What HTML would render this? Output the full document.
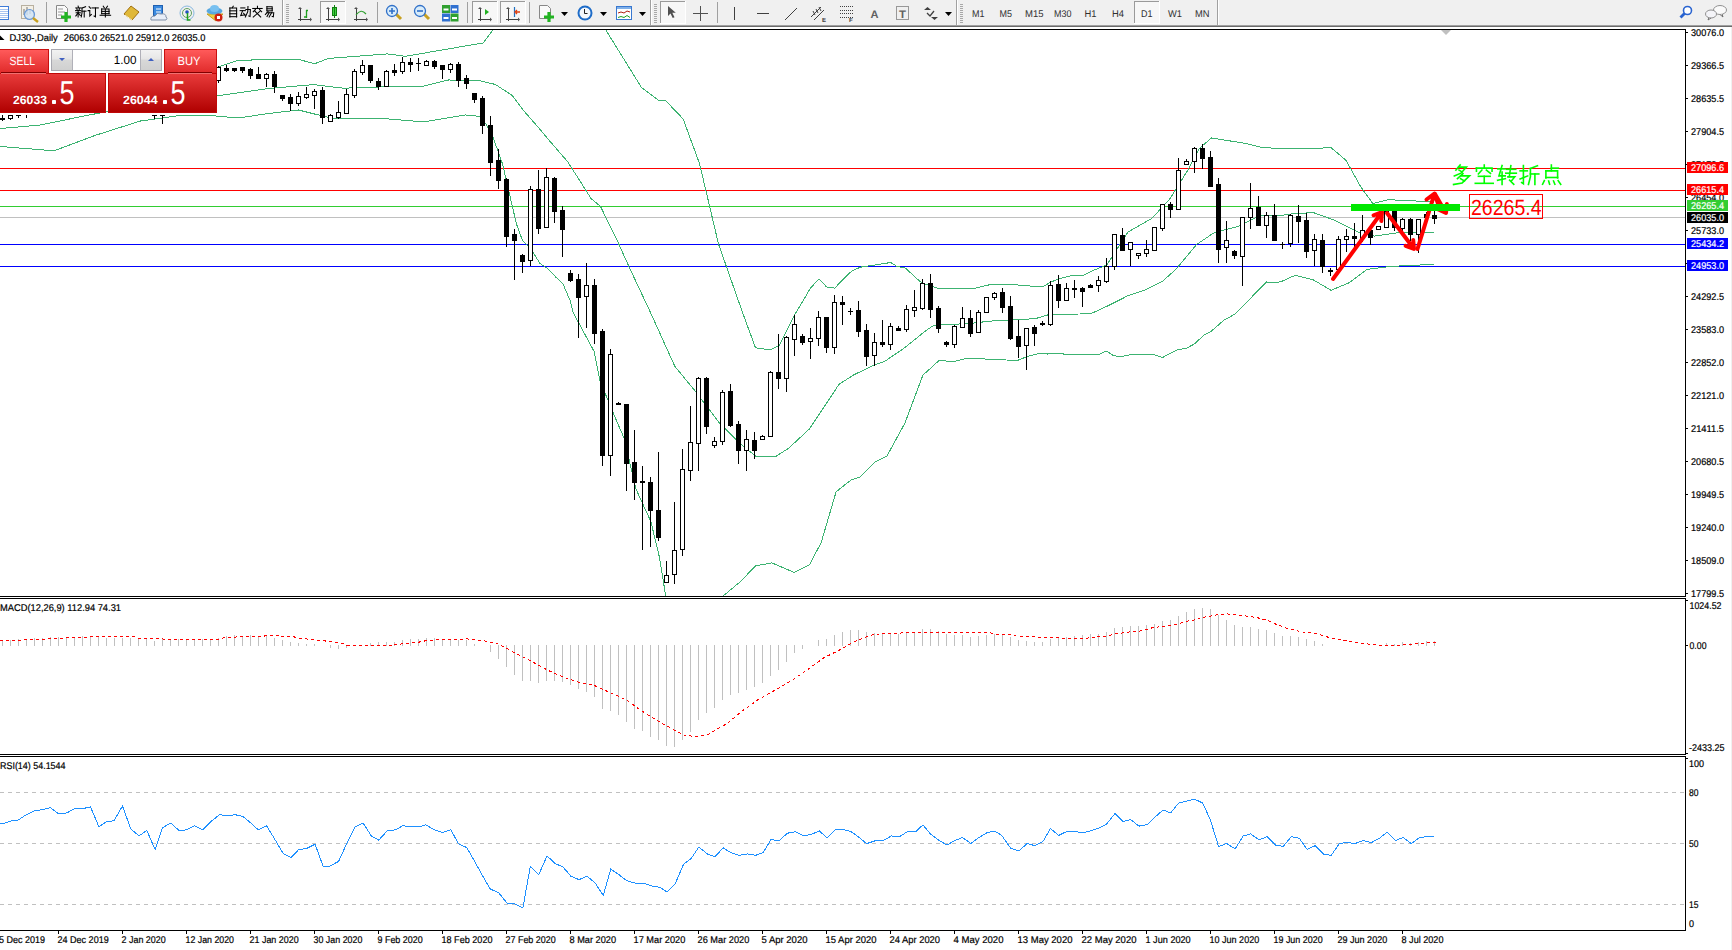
<!DOCTYPE html><html><head><meta charset="utf-8"><style>html,body{margin:0;padding:0;background:#fff;width:1732px;height:950px;overflow:hidden}svg{display:block;font-family:"Liberation Sans", sans-serif}</style></head><body>
<svg width="1732" height="950" viewBox="0 0 1732 950" text-rendering="geometricPrecision">
<rect x="0" y="0" width="1732" height="25" fill="#f0f0f0"/>
<rect x="0" y="25" width="1732" height="1" fill="#a0a0a0"/>
<rect x="0" y="26" width="1732" height="1" fill="#6a6a6a"/>
<rect x="1731" y="27" width="1" height="923" fill="#f0f0f0"/>
<g shape-rendering="auto"><rect x="-4.5" y="6.5" width="13" height="13" fill="#fff" stroke="#3d7bd8"/><rect x="0" y="9" width="8" height="1" fill="#a8c4f0"/><rect x="0" y="11" width="8" height="1" fill="#a8c4f0"/><rect x="0" y="13" width="8" height="1" fill="#a8c4f0"/><rect x="0" y="15" width="8" height="1" fill="#a8c4f0"/><rect x="0" y="17" width="8" height="1" fill="#a8c4f0"/><rect x="21.5" y="5.5" width="12" height="13" fill="#f4f0e6" stroke="#b8b0a0"/><path d="M24 9 v6 M27 7 v8 M30 9 v5" stroke="#777" stroke-width="1"/><circle cx="29.5" cy="14.5" r="5" fill="#cfe3f7" fill-opacity="0.8" stroke="#6a9ad8" stroke-width="1.2"/><path d="M33 18 l5 4" stroke="#c8a020" stroke-width="2.5"/><rect x="46" y="2" width="1" height="21" fill="#a0a0a0"/><path d="M56.5 5.5 h8 l3 3 v10 h-11 z" fill="#fafafa" stroke="#888"/><path d="M58 9 h5 M58 12 h7 M58 15 h4" stroke="#999"/><path d="M66 12 v10 M61 17 h10" stroke="#22b422" stroke-width="3.2"/><g fill="none" stroke="#000" stroke-width="1.05" stroke-linecap="square" stroke-linejoin="miter"><polyline points="78.12,6.20 78.44,7.28"/><polyline points="75.81,7.93 80.75,7.93"/><polyline points="76.76,8.79 77.28,10.09"/><polyline points="79.49,8.79 78.97,10.09"/><polyline points="75.50,10.63 80.75,10.63"/><polyline points="76.13,12.79 80.33,12.79"/><polyline points="78.12,10.63 78.12,17.00"/><polyline points="77.92,13.33 75.81,16.03"/><polyline points="78.33,13.33 80.33,15.49"/><polyline points="85.58,6.74 82.01,8.14"/><polyline points="82.01,8.14 82.01,12.68 81.28,17.00"/><polyline points="82.01,11.17 86.00,11.17"/><polyline points="84.22,11.17 84.22,17.00"/></g><g fill="none" stroke="#000" stroke-width="1.05" stroke-linecap="square" stroke-linejoin="miter"><polyline points="89.06,6.74 90.53,8.25"/><polyline points="88.11,10.63 89.80,10.63 89.80,16.03 91.37,14.41"/><polyline points="92.00,7.93 98.30,7.93"/><polyline points="95.47,7.93 95.47,16.78 94.10,16.03"/></g><g fill="none" stroke="#000" stroke-width="1.05" stroke-linecap="square" stroke-linejoin="miter"><polyline points="103.25,6.20 104.30,7.82"/><polyline points="107.45,6.20 106.40,7.82"/><polyline points="101.67,9.01 101.67,13.76"/><polyline points="101.67,9.01 109.02,9.01 109.02,13.76"/><polyline points="101.67,11.38 109.02,11.38"/><polyline points="101.67,13.65 109.02,13.65"/><polyline points="100.10,15.27 110.60,15.27"/><polyline points="105.35,9.01 105.35,17.00"/></g><path d="M124 14 l7 -8 l8 6 l-7 8 z" fill="#e0b838" stroke="#a07010" stroke-width="1"/><path d="M125 15 l7 5" stroke="#fff3c0" stroke-width="1"/><rect x="153.5" y="5.5" width="9" height="10" fill="#3a8ae0" stroke="#2060b0"/><path d="M156 9 h5 M156 12 h5" stroke="#fff"/><path d="M151 20 q-1 -4 4 -4 q2 -4 6 -2 q5 -1 5 3 q2 1 0 3 z" fill="#e8eef8" stroke="#8090a8"/><circle cx="187" cy="13" r="7" fill="none" stroke="#88b8e0" stroke-width="1"/><circle cx="187" cy="13" r="4.5" fill="none" stroke="#60a060" stroke-width="1"/><circle cx="187" cy="12" r="1.8" fill="#2050c0"/><path d="M187.5 13 v7 h3" stroke="#20a020" stroke-width="1.5" fill="none"/><path d="M207 14 l9 7 l7 -7 z" fill="#f0d040" stroke="#c0a020"/><ellipse cx="214.5" cy="11" rx="8" ry="3.5" fill="#58a8e0"/><ellipse cx="214.5" cy="8.5" rx="4.5" ry="3.5" fill="#78c0f0"/><circle cx="218.5" cy="17.5" r="4" fill="#d02010"/><rect x="217" y="16" width="3" height="3" fill="#fff"/><g fill="none" stroke="#000" stroke-width="1.05" stroke-linecap="square" stroke-linejoin="miter"><polyline points="233.25,6.20 232.20,7.82"/><polyline points="229.89,7.93 229.89,17.00"/><polyline points="229.89,7.93 236.61,7.93 236.61,17.00"/><polyline points="229.89,10.84 236.61,10.84"/><polyline points="229.89,13.76 236.61,13.76"/><polyline points="229.89,16.68 236.61,16.68"/></g><g fill="none" stroke="#000" stroke-width="1.05" stroke-linecap="square" stroke-linejoin="miter"><polyline points="240.73,7.93 244.93,7.93"/><polyline points="240.10,10.63 245.35,10.63"/><polyline points="242.62,10.63 240.73,15.49 244.93,14.84"/><polyline points="243.67,13.33 245.25,15.49"/><polyline points="245.88,9.55 250.39,9.55 250.07,16.57 248.81,16.03"/><polyline points="247.97,6.52 247.76,11.60 245.35,17.00"/></g><g fill="none" stroke="#000" stroke-width="1.05" stroke-linecap="square" stroke-linejoin="miter"><polyline points="257.45,6.20 257.45,7.60"/><polyline points="252.72,8.47 262.18,8.47"/><polyline points="255.35,9.55 253.25,11.71"/><polyline points="259.55,9.55 261.65,11.71"/><polyline points="254.93,11.17 260.70,17.00"/><polyline points="260.07,11.17 253.25,17.00"/></g><g fill="none" stroke="#000" stroke-width="1.05" stroke-linecap="square" stroke-linejoin="miter"><polyline points="266.93,6.74 266.93,10.84"/><polyline points="266.93,6.74 272.18,6.74 272.18,10.84"/><polyline points="266.93,8.79 272.18,8.79"/><polyline points="266.93,10.84 272.18,10.84"/><polyline points="268.08,11.38 265.35,14.41"/><polyline points="267.03,12.68 273.75,12.68 273.33,16.78 272.18,16.46"/><polyline points="269.13,12.68 267.03,16.57"/><polyline points="271.55,12.68 269.13,17.00"/></g><rect x="282" y="0" width="1" height="25" fill="#a0a0a0"/><rect x="283" y="0" width="1" height="25" fill="#fff"/><rect x="286" y="4" width="3" height="1" fill="#a8a8a8"/><rect x="286" y="6" width="3" height="1" fill="#a8a8a8"/><rect x="286" y="8" width="3" height="1" fill="#a8a8a8"/><rect x="286" y="10" width="3" height="1" fill="#a8a8a8"/><rect x="286" y="12" width="3" height="1" fill="#a8a8a8"/><rect x="286" y="14" width="3" height="1" fill="#a8a8a8"/><rect x="286" y="16" width="3" height="1" fill="#a8a8a8"/><rect x="286" y="18" width="3" height="1" fill="#a8a8a8"/><rect x="286" y="20" width="3" height="1" fill="#a8a8a8"/><rect x="286" y="22" width="3" height="1" fill="#a8a8a8"/><path d="M300.5 8 v13 M298 19.5 h13" stroke="#404040" stroke-width="1" fill="none"/><path d="M300 7 l-2 2 h4 z M312 19.5 l-2 -2 v4 z" fill="#505050"/><path d="M306 10.5 h2 M306.5 10 v8 M304 17 h2.5" stroke="#20a020" stroke-width="1.3" fill="none"/><rect x="320" y="1" width="25" height="22" fill="#f7f7f7"/><rect x="320" y="1" width="25" height="1" fill="#9a9a9a"/><rect x="320" y="1" width="1" height="22" fill="#9a9a9a"/><rect x="320" y="23" width="26" height="1" fill="#fff"/><rect x="345" y="1" width="1" height="23" fill="#fff"/><path d="M328.5 8 v13 M326 19.5 h13" stroke="#404040" stroke-width="1" fill="none"/><path d="M328 7 l-2 2 h4 z M340 19.5 l-2 -2 v4 z" fill="#505050"/><rect x="332.5" y="7.5" width="4" height="8" fill="#40d040" stroke="#108010"/><path d="M334.5 5 v13" stroke="#108010"/><path d="M356.5 8 v13 M354 19.5 h13" stroke="#404040" stroke-width="1" fill="none"/><path d="M356 7 l-2 2 h4 z M368 19.5 l-2 -2 v4 z" fill="#505050"/><path d="M356 15 q5 -7 10 -1" stroke="#30a030" stroke-width="1.2" fill="none"/><rect x="377" y="2" width="1" height="21" fill="#a0a0a0"/><path d="M396 14 l5 5" stroke="#c8a020" stroke-width="3"/><circle cx="392" cy="11" r="5.5" fill="#d8ecfa" stroke="#3070c8" stroke-width="1.3"/><path d="M389 11 h6 M392 8 v6" stroke="#3070c8" stroke-width="1.6"/><path d="M424 14 l5 5" stroke="#c8a020" stroke-width="3"/><circle cx="420" cy="11" r="5.5" fill="#d8ecfa" stroke="#3070c8" stroke-width="1.3"/><path d="M417 11 h6" stroke="#3070c8" stroke-width="1.6"/><rect x="442" y="5" width="8" height="8" fill="#30a030"/><rect x="450.5" y="5" width="8" height="8" fill="#3070d0"/><rect x="442" y="13.5" width="8" height="8" fill="#3070d0"/><rect x="450.5" y="13.5" width="8" height="8" fill="#30a030"/><path d="M443.5 9.5 h5 M452 9.5 h5 M443.5 18 h5 M452 18 h5" stroke="#fff" stroke-width="2"/><rect x="467" y="2" width="1" height="21" fill="#a0a0a0"/><rect x="472" y="1" width="25" height="22" fill="#f7f7f7"/><rect x="472" y="1" width="25" height="1" fill="#9a9a9a"/><rect x="472" y="1" width="1" height="22" fill="#9a9a9a"/><rect x="472" y="23" width="26" height="1" fill="#fff"/><rect x="497" y="1" width="1" height="23" fill="#fff"/><path d="M480.5 8 v13 M478 19.5 h13" stroke="#404040" stroke-width="1" fill="none"/><path d="M480 7 l-2 2 h4 z M492 19.5 l-2 -2 v4 z" fill="#505050"/><path d="M485 9 v6 l4 -3 z" fill="#20b020"/><rect x="500" y="1" width="25" height="22" fill="#f7f7f7"/><rect x="500" y="1" width="25" height="1" fill="#9a9a9a"/><rect x="500" y="1" width="1" height="22" fill="#9a9a9a"/><rect x="500" y="23" width="26" height="1" fill="#fff"/><rect x="525" y="1" width="1" height="23" fill="#fff"/><path d="M508.5 8 v13 M506 19.5 h13" stroke="#404040" stroke-width="1" fill="none"/><path d="M508 7 l-2 2 h4 z M520 19.5 l-2 -2 v4 z" fill="#505050"/><path d="M514.5 7 v10" stroke="#2070c0" stroke-width="1.2"/><path d="M520 12 h-4 M517 10 l-2 2 l2 2" stroke="#e04010" stroke-width="1.3" fill="none"/><rect x="529" y="2" width="1" height="21" fill="#a0a0a0"/><path d="M539.5 5.5 h8 l3 3 v10 h-11 z" fill="#fafafa" stroke="#888"/><path d="M549 12 v10 M544 17 h10" stroke="#22b422" stroke-width="3.2"/><path d="M561 12 h7 l-3.5 4 z" fill="#000"/><circle cx="585" cy="13" r="7.5" fill="#1e6cc8"/><circle cx="585" cy="13" r="5.5" fill="#f4f8fc"/><path d="M584.5 9 v4.5 h3" stroke="#222" stroke-width="1" fill="none"/><path d="M600 12 h7 l-3.5 4 z" fill="#000"/><rect x="616.5" y="6.5" width="15" height="13" fill="#fff" stroke="#3878d0"/><rect x="617" y="7" width="14" height="2" fill="#80b0e8"/><path d="M618 13 l3 -1 l3 1 l3 -2 l3 1" stroke="#b02010" fill="none"/><path d="M618 17.5 l3 -1 l3 1 l3 -2 l3 2" stroke="#20a020" fill="none"/><path d="M639 12 h7 l-3.5 4 z" fill="#000"/><rect x="650" y="0" width="1" height="25" fill="#a0a0a0"/><rect x="651" y="0" width="1" height="25" fill="#fff"/><rect x="654" y="4" width="3" height="1" fill="#a8a8a8"/><rect x="654" y="6" width="3" height="1" fill="#a8a8a8"/><rect x="654" y="8" width="3" height="1" fill="#a8a8a8"/><rect x="654" y="10" width="3" height="1" fill="#a8a8a8"/><rect x="654" y="12" width="3" height="1" fill="#a8a8a8"/><rect x="654" y="14" width="3" height="1" fill="#a8a8a8"/><rect x="654" y="16" width="3" height="1" fill="#a8a8a8"/><rect x="654" y="18" width="3" height="1" fill="#a8a8a8"/><rect x="654" y="20" width="3" height="1" fill="#a8a8a8"/><rect x="654" y="22" width="3" height="1" fill="#a8a8a8"/><rect x="660" y="1" width="25" height="22" fill="#f7f7f7"/><rect x="660" y="1" width="25" height="1" fill="#9a9a9a"/><rect x="660" y="1" width="1" height="22" fill="#9a9a9a"/><rect x="660" y="23" width="26" height="1" fill="#fff"/><rect x="685" y="1" width="1" height="23" fill="#fff"/><path d="M668 6 v10 l2.5 -2.5 l2.2 4.5 l1.8 -0.8 l-2.2 -4.5 h3.5 z" fill="#505050"/><path d="M693 13.5 h15 M700.5 6 v15" stroke="#505050" stroke-width="1"/><rect x="717" y="2" width="1" height="21" fill="#a0a0a0"/><rect x="734" y="7" width="1" height="13" fill="#404040"/><rect x="757" y="13" width="12" height="1" fill="#404040"/><path d="M785 20 l12 -12" stroke="#404040" stroke-width="1"/><path d="M811 17 l10 -10 M814 20 l10 -10 M813 11 l2 4 M816 9 l2 4 M819 7 l2 4" stroke="#404040" stroke-width="1" fill="none"/><text x="822" y="22" font-size="6" fill="#404040" text-anchor="start" font-weight="bold">E</text><path d="M840 6.5 h14" stroke="#404040" stroke-dasharray="1 1"/><path d="M840 10.5 h14" stroke="#404040" stroke-dasharray="1 1"/><path d="M840 13.5 h14" stroke="#404040" stroke-dasharray="1 1"/><path d="M840 17.5 h14" stroke="#404040" stroke-dasharray="1 1"/><text x="849" y="22" font-size="6" fill="#404040" text-anchor="start" font-weight="bold">F</text><text x="870.5" y="18" font-size="11" fill="#606060" text-anchor="start" font-weight="bold" textLength="8" lengthAdjust="spacingAndGlyphs">A</text><rect x="896.5" y="6.5" width="12" height="13" fill="none" stroke="#404040" stroke-dasharray="1 1"/><text x="899" y="18" font-size="11" fill="#606060" text-anchor="start" font-weight="bold" textLength="7" lengthAdjust="spacingAndGlyphs">T</text><path d="M924 10 l3.5 -3 l3.5 3 z M931 17 l3.5 3 l3.5 -3 z" fill="#404040"/><path d="M927 13 l3 3 l4 -5" stroke="#404040" stroke-width="1.3" fill="none"/><path d="M945 12 h7 l-3.5 4 z" fill="#000"/><rect x="956" y="0" width="1" height="25" fill="#a0a0a0"/><rect x="957" y="0" width="1" height="25" fill="#fff"/><rect x="960" y="4" width="3" height="1" fill="#a8a8a8"/><rect x="960" y="6" width="3" height="1" fill="#a8a8a8"/><rect x="960" y="8" width="3" height="1" fill="#a8a8a8"/><rect x="960" y="10" width="3" height="1" fill="#a8a8a8"/><rect x="960" y="12" width="3" height="1" fill="#a8a8a8"/><rect x="960" y="14" width="3" height="1" fill="#a8a8a8"/><rect x="960" y="16" width="3" height="1" fill="#a8a8a8"/><rect x="960" y="18" width="3" height="1" fill="#a8a8a8"/><rect x="960" y="20" width="3" height="1" fill="#a8a8a8"/><rect x="960" y="22" width="3" height="1" fill="#a8a8a8"/><text x="972" y="17" font-size="9.8" fill="#303030" text-anchor="start" font-weight="normal" textLength="12.5" lengthAdjust="spacingAndGlyphs" stroke-width="0">M1</text><text x="999.5" y="17" font-size="9.8" fill="#303030" text-anchor="start" font-weight="normal" textLength="12.5" lengthAdjust="spacingAndGlyphs" stroke-width="0">M5</text><text x="1025" y="17" font-size="9.8" fill="#303030" text-anchor="start" font-weight="normal" textLength="18.5" lengthAdjust="spacingAndGlyphs" stroke-width="0">M15</text><text x="1054" y="17" font-size="9.8" fill="#303030" text-anchor="start" font-weight="normal" textLength="17.5" lengthAdjust="spacingAndGlyphs" stroke-width="0">M30</text><text x="1084.5" y="17" font-size="9.8" fill="#303030" text-anchor="start" font-weight="normal" textLength="12" lengthAdjust="spacingAndGlyphs" stroke-width="0">H1</text><text x="1112" y="17" font-size="9.8" fill="#303030" text-anchor="start" font-weight="normal" textLength="12" lengthAdjust="spacingAndGlyphs" stroke-width="0">H4</text><text x="1168" y="17" font-size="9.8" fill="#303030" text-anchor="start" font-weight="normal" textLength="14" lengthAdjust="spacingAndGlyphs" stroke-width="0">W1</text><text x="1195" y="17" font-size="9.8" fill="#303030" text-anchor="start" font-weight="normal" textLength="14.5" lengthAdjust="spacingAndGlyphs" stroke-width="0">MN</text><rect x="1134" y="1" width="25" height="22" fill="#f7f7f7"/><rect x="1134" y="1" width="25" height="1" fill="#9a9a9a"/><rect x="1134" y="1" width="1" height="22" fill="#9a9a9a"/><rect x="1134" y="23" width="26" height="1" fill="#fff"/><rect x="1159" y="1" width="1" height="23" fill="#fff"/><text x="1141" y="17" font-size="9.8" fill="#303030" text-anchor="start" font-weight="normal" textLength="11.5" lengthAdjust="spacingAndGlyphs" stroke-width="0">D1</text><rect x="1217" y="0" width="1" height="25" fill="#a0a0a0"/><rect x="1218" y="0" width="1" height="25" fill="#fff"/><circle cx="1687.5" cy="10.5" r="4" fill="#fff" stroke="#2a64d0" stroke-width="1.6"/><path d="M1684.5 13.5 l-4 4" stroke="#2a64d0" stroke-width="2.8"/><ellipse cx="1720" cy="10" rx="6.5" ry="4.5" fill="#fafafa" stroke="#909090"/><path d="M1722 14 l1 3 l-3 -2.5" fill="#fafafa" stroke="#707070"/><ellipse cx="1711" cy="14" rx="5.5" ry="4" fill="#f4f4f8" stroke="#909090"/><path d="M1709 17.5 l-1 2.5 l3 -2" fill="#fafafa" stroke="#707070"/></g>
<g shape-rendering="crispEdges">
<rect x="0" y="29" width="1686" height="1" fill="#000"/>
<rect x="1685" y="29" width="1" height="568" fill="#000"/>
<rect x="0" y="596" width="1686" height="1" fill="#000"/>
<rect x="0" y="598" width="1686" height="1" fill="#000"/>
<rect x="1685" y="598" width="1" height="157" fill="#000"/>
<rect x="0" y="754" width="1686" height="1" fill="#000"/>
<rect x="0" y="756" width="1686" height="1" fill="#000"/>
<rect x="1685" y="756" width="1" height="175" fill="#000"/>
<rect x="0" y="930" width="1686" height="1" fill="#000"/>
<rect x="0" y="168" width="1685" height="1" fill="#ff0000"/>
<rect x="0" y="190" width="1685" height="1" fill="#ff0000"/>
<rect x="0" y="206" width="1685" height="1" fill="#32cd32"/>
<rect x="0" y="217" width="1685" height="1" fill="#c0c0c0"/>
<rect x="0" y="244" width="1685" height="1" fill="#0000ff"/>
<rect x="0" y="266" width="1685" height="1" fill="#0000ff"/>
<line x1="0" y1="792.5" x2="1685" y2="792.5" stroke="#c0c0c0" stroke-width="1" stroke-dasharray="4 4"/>
<line x1="0" y1="843.5" x2="1685" y2="843.5" stroke="#c0c0c0" stroke-width="1" stroke-dasharray="4 4"/>
<line x1="0" y1="904.5" x2="1685" y2="904.5" stroke="#c0c0c0" stroke-width="1" stroke-dasharray="4 4"/>
<rect x="2" y="640" width="1" height="6" fill="#c0c0c0"/>
<rect x="10" y="640" width="1" height="6" fill="#c0c0c0"/>
<rect x="18" y="639" width="1" height="7" fill="#c0c0c0"/>
<rect x="26" y="639" width="1" height="7" fill="#c0c0c0"/>
<rect x="34" y="638" width="1" height="8" fill="#c0c0c0"/>
<rect x="42" y="638" width="1" height="8" fill="#c0c0c0"/>
<rect x="50" y="637" width="1" height="9" fill="#c0c0c0"/>
<rect x="58" y="637" width="1" height="9" fill="#c0c0c0"/>
<rect x="66" y="637" width="1" height="9" fill="#c0c0c0"/>
<rect x="74" y="637" width="1" height="9" fill="#c0c0c0"/>
<rect x="82" y="636" width="1" height="10" fill="#c0c0c0"/>
<rect x="90" y="636" width="1" height="10" fill="#c0c0c0"/>
<rect x="98" y="636" width="1" height="10" fill="#c0c0c0"/>
<rect x="106" y="638" width="1" height="8" fill="#c0c0c0"/>
<rect x="114" y="638" width="1" height="8" fill="#c0c0c0"/>
<rect x="122" y="638" width="1" height="8" fill="#c0c0c0"/>
<rect x="130" y="638" width="1" height="8" fill="#c0c0c0"/>
<rect x="138" y="639" width="1" height="7" fill="#c0c0c0"/>
<rect x="146" y="639" width="1" height="7" fill="#c0c0c0"/>
<rect x="154" y="641" width="1" height="5" fill="#c0c0c0"/>
<rect x="162" y="639" width="1" height="7" fill="#c0c0c0"/>
<rect x="170" y="639" width="1" height="7" fill="#c0c0c0"/>
<rect x="178" y="639" width="1" height="7" fill="#c0c0c0"/>
<rect x="186" y="639" width="1" height="7" fill="#c0c0c0"/>
<rect x="194" y="639" width="1" height="7" fill="#c0c0c0"/>
<rect x="202" y="639" width="1" height="7" fill="#c0c0c0"/>
<rect x="210" y="639" width="1" height="7" fill="#c0c0c0"/>
<rect x="218" y="638" width="1" height="8" fill="#c0c0c0"/>
<rect x="226" y="636" width="1" height="10" fill="#c0c0c0"/>
<rect x="234" y="635" width="1" height="11" fill="#c0c0c0"/>
<rect x="242" y="636" width="1" height="10" fill="#c0c0c0"/>
<rect x="250" y="635" width="1" height="11" fill="#c0c0c0"/>
<rect x="258" y="636" width="1" height="10" fill="#c0c0c0"/>
<rect x="266" y="635" width="1" height="11" fill="#c0c0c0"/>
<rect x="274" y="638" width="1" height="8" fill="#c0c0c0"/>
<rect x="282" y="640" width="1" height="6" fill="#c0c0c0"/>
<rect x="290" y="642" width="1" height="4" fill="#c0c0c0"/>
<rect x="298" y="643" width="1" height="3" fill="#c0c0c0"/>
<rect x="306" y="644" width="1" height="2" fill="#c0c0c0"/>
<rect x="314" y="644" width="1" height="2" fill="#c0c0c0"/>
<rect x="330" y="645" width="1" height="3" fill="#c0c0c0"/>
<rect x="338" y="645" width="1" height="4" fill="#c0c0c0"/>
<rect x="346" y="645" width="1" height="3" fill="#c0c0c0"/>
<rect x="370" y="643" width="1" height="3" fill="#c0c0c0"/>
<rect x="378" y="642" width="1" height="4" fill="#c0c0c0"/>
<rect x="386" y="642" width="1" height="4" fill="#c0c0c0"/>
<rect x="394" y="642" width="1" height="4" fill="#c0c0c0"/>
<rect x="402" y="640" width="1" height="6" fill="#c0c0c0"/>
<rect x="410" y="639" width="1" height="7" fill="#c0c0c0"/>
<rect x="418" y="639" width="1" height="7" fill="#c0c0c0"/>
<rect x="426" y="638" width="1" height="8" fill="#c0c0c0"/>
<rect x="434" y="638" width="1" height="8" fill="#c0c0c0"/>
<rect x="442" y="639" width="1" height="7" fill="#c0c0c0"/>
<rect x="450" y="639" width="1" height="7" fill="#c0c0c0"/>
<rect x="458" y="640" width="1" height="6" fill="#c0c0c0"/>
<rect x="466" y="640" width="1" height="6" fill="#c0c0c0"/>
<rect x="474" y="644" width="1" height="2" fill="#c0c0c0"/>
<rect x="490" y="645" width="1" height="7" fill="#c0c0c0"/>
<rect x="498" y="645" width="1" height="14" fill="#c0c0c0"/>
<rect x="506" y="645" width="1" height="22" fill="#c0c0c0"/>
<rect x="514" y="645" width="1" height="30" fill="#c0c0c0"/>
<rect x="522" y="645" width="1" height="36" fill="#c0c0c0"/>
<rect x="530" y="645" width="1" height="36" fill="#c0c0c0"/>
<rect x="538" y="645" width="1" height="38" fill="#c0c0c0"/>
<rect x="546" y="645" width="1" height="36" fill="#c0c0c0"/>
<rect x="554" y="645" width="1" height="36" fill="#c0c0c0"/>
<rect x="562" y="645" width="1" height="37" fill="#c0c0c0"/>
<rect x="570" y="645" width="1" height="40" fill="#c0c0c0"/>
<rect x="578" y="645" width="1" height="44" fill="#c0c0c0"/>
<rect x="586" y="645" width="1" height="47" fill="#c0c0c0"/>
<rect x="594" y="645" width="1" height="52" fill="#c0c0c0"/>
<rect x="602" y="645" width="1" height="64" fill="#c0c0c0"/>
<rect x="610" y="645" width="1" height="66" fill="#c0c0c0"/>
<rect x="618" y="645" width="1" height="70" fill="#c0c0c0"/>
<rect x="626" y="645" width="1" height="77" fill="#c0c0c0"/>
<rect x="634" y="645" width="1" height="84" fill="#c0c0c0"/>
<rect x="642" y="645" width="1" height="86" fill="#c0c0c0"/>
<rect x="650" y="645" width="1" height="92" fill="#c0c0c0"/>
<rect x="658" y="645" width="1" height="95" fill="#c0c0c0"/>
<rect x="666" y="645" width="1" height="101" fill="#c0c0c0"/>
<rect x="674" y="645" width="1" height="102" fill="#c0c0c0"/>
<rect x="682" y="645" width="1" height="95" fill="#c0c0c0"/>
<rect x="690" y="645" width="1" height="87" fill="#c0c0c0"/>
<rect x="698" y="645" width="1" height="75" fill="#c0c0c0"/>
<rect x="706" y="645" width="1" height="68" fill="#c0c0c0"/>
<rect x="714" y="645" width="1" height="63" fill="#c0c0c0"/>
<rect x="722" y="645" width="1" height="55" fill="#c0c0c0"/>
<rect x="730" y="645" width="1" height="50" fill="#c0c0c0"/>
<rect x="738" y="645" width="1" height="48" fill="#c0c0c0"/>
<rect x="746" y="645" width="1" height="45" fill="#c0c0c0"/>
<rect x="754" y="645" width="1" height="42" fill="#c0c0c0"/>
<rect x="762" y="645" width="1" height="38" fill="#c0c0c0"/>
<rect x="770" y="645" width="1" height="31" fill="#c0c0c0"/>
<rect x="778" y="645" width="1" height="25" fill="#c0c0c0"/>
<rect x="786" y="645" width="1" height="17" fill="#c0c0c0"/>
<rect x="794" y="645" width="1" height="8" fill="#c0c0c0"/>
<rect x="802" y="645" width="1" height="4" fill="#c0c0c0"/>
<rect x="818" y="640" width="1" height="6" fill="#c0c0c0"/>
<rect x="826" y="639" width="1" height="7" fill="#c0c0c0"/>
<rect x="834" y="635" width="1" height="11" fill="#c0c0c0"/>
<rect x="842" y="632" width="1" height="14" fill="#c0c0c0"/>
<rect x="850" y="630" width="1" height="16" fill="#c0c0c0"/>
<rect x="858" y="630" width="1" height="16" fill="#c0c0c0"/>
<rect x="866" y="632" width="1" height="14" fill="#c0c0c0"/>
<rect x="874" y="633" width="1" height="13" fill="#c0c0c0"/>
<rect x="882" y="634" width="1" height="12" fill="#c0c0c0"/>
<rect x="890" y="634" width="1" height="12" fill="#c0c0c0"/>
<rect x="898" y="634" width="1" height="12" fill="#c0c0c0"/>
<rect x="906" y="633" width="1" height="13" fill="#c0c0c0"/>
<rect x="914" y="633" width="1" height="13" fill="#c0c0c0"/>
<rect x="922" y="629" width="1" height="17" fill="#c0c0c0"/>
<rect x="930" y="629" width="1" height="17" fill="#c0c0c0"/>
<rect x="938" y="631" width="1" height="15" fill="#c0c0c0"/>
<rect x="946" y="634" width="1" height="12" fill="#c0c0c0"/>
<rect x="954" y="635" width="1" height="11" fill="#c0c0c0"/>
<rect x="962" y="635" width="1" height="11" fill="#c0c0c0"/>
<rect x="970" y="637" width="1" height="9" fill="#c0c0c0"/>
<rect x="978" y="636" width="1" height="10" fill="#c0c0c0"/>
<rect x="986" y="635" width="1" height="11" fill="#c0c0c0"/>
<rect x="994" y="634" width="1" height="12" fill="#c0c0c0"/>
<rect x="1002" y="635" width="1" height="11" fill="#c0c0c0"/>
<rect x="1010" y="637" width="1" height="9" fill="#c0c0c0"/>
<rect x="1018" y="640" width="1" height="6" fill="#c0c0c0"/>
<rect x="1026" y="641" width="1" height="5" fill="#c0c0c0"/>
<rect x="1034" y="642" width="1" height="4" fill="#c0c0c0"/>
<rect x="1042" y="642" width="1" height="4" fill="#c0c0c0"/>
<rect x="1050" y="639" width="1" height="7" fill="#c0c0c0"/>
<rect x="1058" y="638" width="1" height="8" fill="#c0c0c0"/>
<rect x="1066" y="637" width="1" height="9" fill="#c0c0c0"/>
<rect x="1074" y="636" width="1" height="10" fill="#c0c0c0"/>
<rect x="1082" y="635" width="1" height="11" fill="#c0c0c0"/>
<rect x="1090" y="634" width="1" height="12" fill="#c0c0c0"/>
<rect x="1098" y="634" width="1" height="12" fill="#c0c0c0"/>
<rect x="1106" y="632" width="1" height="14" fill="#c0c0c0"/>
<rect x="1114" y="628" width="1" height="18" fill="#c0c0c0"/>
<rect x="1122" y="627" width="1" height="19" fill="#c0c0c0"/>
<rect x="1130" y="626" width="1" height="20" fill="#c0c0c0"/>
<rect x="1138" y="626" width="1" height="20" fill="#c0c0c0"/>
<rect x="1146" y="625" width="1" height="21" fill="#c0c0c0"/>
<rect x="1154" y="624" width="1" height="22" fill="#c0c0c0"/>
<rect x="1162" y="621" width="1" height="25" fill="#c0c0c0"/>
<rect x="1170" y="620" width="1" height="26" fill="#c0c0c0"/>
<rect x="1178" y="616" width="1" height="30" fill="#c0c0c0"/>
<rect x="1186" y="612" width="1" height="34" fill="#c0c0c0"/>
<rect x="1194" y="609" width="1" height="37" fill="#c0c0c0"/>
<rect x="1202" y="608" width="1" height="38" fill="#c0c0c0"/>
<rect x="1210" y="609" width="1" height="37" fill="#c0c0c0"/>
<rect x="1218" y="615" width="1" height="31" fill="#c0c0c0"/>
<rect x="1226" y="620" width="1" height="26" fill="#c0c0c0"/>
<rect x="1234" y="625" width="1" height="21" fill="#c0c0c0"/>
<rect x="1242" y="627" width="1" height="19" fill="#c0c0c0"/>
<rect x="1250" y="627" width="1" height="19" fill="#c0c0c0"/>
<rect x="1258" y="629" width="1" height="17" fill="#c0c0c0"/>
<rect x="1266" y="630" width="1" height="16" fill="#c0c0c0"/>
<rect x="1274" y="633" width="1" height="13" fill="#c0c0c0"/>
<rect x="1282" y="636" width="1" height="10" fill="#c0c0c0"/>
<rect x="1290" y="636" width="1" height="10" fill="#c0c0c0"/>
<rect x="1298" y="637" width="1" height="9" fill="#c0c0c0"/>
<rect x="1306" y="639" width="1" height="7" fill="#c0c0c0"/>
<rect x="1314" y="641" width="1" height="5" fill="#c0c0c0"/>
<rect x="1322" y="644" width="1" height="2" fill="#c0c0c0"/>
<rect x="1386" y="643" width="1" height="3" fill="#c0c0c0"/>
<rect x="1394" y="644" width="1" height="2" fill="#c0c0c0"/>
<rect x="1402" y="642" width="1" height="4" fill="#c0c0c0"/>
<rect x="1410" y="643" width="1" height="3" fill="#c0c0c0"/>
<rect x="1418" y="642" width="1" height="4" fill="#c0c0c0"/>
<rect x="1426" y="641" width="1" height="5" fill="#c0c0c0"/>
<rect x="1434" y="641" width="1" height="5" fill="#c0c0c0"/>
</g>
<defs><clipPath id="mc"><rect x="0" y="30" width="1685" height="566"/></clipPath><clipPath id="mac"><rect x="0" y="599" width="1685" height="155"/></clipPath><clipPath id="rsc"><rect x="0" y="757" width="1685" height="173"/></clipPath></defs>
<g clip-path="url(#mac)">
<polyline points="0.5,640.8 20.5,640.5 25.5,639.8 50.5,638.8 60.5,638.1 88.5,637.0 135.8,636.7 137.9,638.0 158.7,638.0 162.9,639.0 219.0,639.0 223.1,638.0 239.8,636.7 262.6,636.7 264.7,635.9 279.3,635.9 283.4,636.7 293.8,636.7 296.9,638.0 316.7,640.0 333.3,641.9 343.7,643.8 347.8,645.5 391.5,645.5 401.9,643.8 420.6,641.9 426.8,640.5 440.5,639.7 467.1,638.9 483.0,640.5 498.9,644.2 514.9,652.9 530.8,660.9 546.7,669.7 562.7,676.9 578.6,682.2 594.5,685.6 610.5,692.8 626.5,700.0 642.4,711.4 658.3,721.2 674.2,730.0 684.9,735.3 695.5,736.6 708.8,734.0 727.4,723.3 743.3,710.1 759.2,698.9 775.2,690.1 791.1,680.8 807.0,670.2 823.0,658.3 838.9,650.3 854.8,641.5 870.8,635.2 886.7,633.0 900.5,633.0 912.8,632.9 920.9,632.0 964.5,632.0 967.8,632.9 990.5,632.9 993.7,634.1 1013.1,635.0 1016.3,636.0 1037.3,637.0 1040.5,637.9 1061.5,637.9 1064.8,638.9 1090.5,637.9 1095.5,637.0 1106.8,636.0 1114.9,634.1 1127.8,632.1 1142.4,630.8 1152.2,627.8 1167.2,625.8 1179.0,623.6 1187.3,621.1 1195.7,619.8 1200.7,617.8 1210.8,616.1 1217.5,614.7 1227.5,613.9 1234.2,614.7 1244.3,615.7 1257.7,617.8 1267.7,620.6 1277.8,625.0 1287.8,628.6 1301.2,631.7 1317.9,634.0 1331.3,638.2 1344.7,640.7 1359.8,642.9 1371.5,644.5 1388.3,645.7 1401.7,645.1 1415.1,643.7 1426.8,642.9 1436.8,642.9" fill="none" stroke="#ff0000" stroke-width="1" stroke-dasharray="3 3" shape-rendering="crispEdges"/>
</g>
<g clip-path="url(#rsc)">
<polyline points="0.5,824.0 3.3,823.5 10.2,821.2 18.5,819.9 25.5,815.1 33.8,811.0 42.1,809.6 50.4,807.7 58.7,813.8 67.0,812.9 75.3,808.2 82.3,808.8 90.5,806.8 98.9,826.8 105.8,822.1 114.1,820.7 122.5,806.0 130.8,829.0 139.1,835.9 146.8,830.4 155.2,849.8 162.6,827.6 171.0,822.9 179.3,830.9 186.8,829.8 194.5,825.7 202.8,829.8 211.1,821.5 219.5,814.6 227.8,816.0 234.7,814.6 243.0,816.5 251.3,823.5 258.3,829.8 266.6,825.7 274.9,839.5 283.2,853.4 291.0,857.5 298.5,849.8 306.8,848.4 315.1,844.2 323.4,867.0 330.3,865.9 338.6,861.4 347.0,842.9 355.3,826.8 363.0,822.9 371.3,835.9 378.8,840.1 387.1,830.9 395.5,829.8 402.9,825.7 410.7,826.8 419.0,826.8 425.9,824.8 434.3,829.8 442.5,832.6 450.9,829.8 458.4,843.7 466.7,847.6 474.4,860.9 482.7,876.1 490.4,889.1 498.7,892.7 507.1,903.3 514.5,903.8 522.9,908.0 530.3,866.4 538.7,874.7 547.0,855.9 555.3,863.6 563.0,867.0 570.8,876.1 579.1,879.7 586.6,876.1 594.9,882.5 603.2,895.5 610.7,869.2 619.0,874.7 626.8,880.8 635.1,883.0 643.4,883.0 651.2,885.8 659.5,887.2 667.0,891.9 675.3,883.6 683.6,864.2 691.1,858.7 698.9,847.0 707.2,853.9 714.9,856.7 723.2,847.9 730.7,852.6 739.0,855.3 747.4,853.9 755.7,855.3 763.2,852.6 770.9,839.5 778.7,840.9 787.5,833.2 795.3,831.8 803.6,835.9 811.1,834.5 819.4,830.9 826.9,837.9 835.2,829.8 844.4,829.8 851.3,831.8 859.1,837.3 866.5,843.7 874.9,840.9 883.2,840.6 891.5,835.9 899.2,836.8 907.3,831.8 915.6,831.8 922.9,824.9 931.0,834.5 939.1,840.5 946.9,845.0 955.0,840.5 962.5,837.5 970.9,843.5 979.0,837.5 986.5,833.0 994.0,830.9 1001.5,835.1 1010.5,848.0 1019.0,851.0 1027.1,843.5 1034.6,845.6 1043.0,841.4 1050.5,828.5 1058.6,835.4 1066.7,831.5 1075.1,831.5 1082.6,833.0 1090.7,830.9 1099.1,827.9 1106.6,824.0 1115.0,813.5 1123.1,821.6 1130.6,819.5 1139.0,826.1 1147.2,824.6 1154.7,817.4 1163.1,809.9 1170.6,812.9 1178.7,803.0 1187.1,800.9 1194.3,799.1 1202.7,803.0 1210.2,819.5 1218.6,846.5 1226.7,843.5 1235.1,848.9 1243.2,836.0 1250.7,833.9 1259.1,839.9 1267.2,836.6 1275.3,845.0 1283.2,846.5 1291.3,836.6 1299.4,838.4 1307.2,849.5 1315.3,845.6 1323.4,854.0 1331.2,855.5 1339.3,843.5 1346.8,842.6 1355.2,843.5 1363.3,840.5 1371.4,842.6 1379.2,838.4 1387.3,832.1 1395.4,840.5 1403.2,837.5 1411.3,843.5 1418.9,838.1 1426.4,836.6 1433.9,836.6" fill="none" stroke="#1e90ff" stroke-width="1" shape-rendering="crispEdges"/>
</g>
<g clip-path="url(#mc)">
<polyline points="216.5,67.5 238.5,60.2 298.5,59.3 314.5,63.8 328.5,58.4 387.5,53.9 405.5,56.3 483.2,42.9 492.2,31.0 494.5,28.5" fill="none" stroke="#3cb371" stroke-width="1" shape-rendering="crispEdges"/>
<polyline points="603.5,28.5 605.5,29.5 641.5,87.5 659.5,101.0 665.5,100.5 683.1,118.9 699.5,163.5 718.5,244.0 742.5,312.5 755.5,347.8 770.5,349.9 779.4,345.4 794.3,315.5 810.5,288.1 819.0,278.8 826.5,286.9 834.8,288.1 845.2,277.1 852.2,270.7 860.3,267.2 880.5,264.1 890.8,262.5 896.7,266.3 905.5,268.2 920.3,281.8 924.7,284.0 938.0,288.4 974.8,288.4 992.5,284.0 1007.2,284.0 1023.5,285.5 1042.5,286.9 1051.5,281.7 1061.8,278.1 1073.5,275.1 1082.4,275.8 1092.0,270.9 1106.9,264.9 1127.9,232.0 1151.8,218.5 1169.7,199.1 1187.5,170.7 1199.5,148.3 1211.5,137.9 1247.5,143.8 1262.3,147.7 1298.2,148.9 1331.1,147.7 1346.0,160.3 1361.0,187.2 1372.9,203.6 1387.9,199.7 1408.8,200.6 1434.2,202.1" fill="none" stroke="#3cb371" stroke-width="1" shape-rendering="crispEdges"/>
<polyline points="0.5,128.5 40.5,125.0 86.5,115.5 150.5,103.5 218.0,95.7 268.5,88.5 313.5,84.6 343.2,88.2 387.5,86.7 423.5,86.1 448.5,80.0 465.5,80.2 480.5,80.8 495.5,84.5 512.2,95.5 523.5,110.5 537.5,126.5 551.5,143.1 567.5,161.5 579.5,180.2 591.0,198.5 600.5,206.5 617.5,241.1 629.5,267.9 650.5,312.5 674.8,366.3 695.7,391.7 719.5,423.1 740.5,444.0 755.5,456.0 776.4,456.0 788.3,448.5 809.3,429.1 839.1,384.2 854.1,374.7 875.3,364.5 884.5,361.5 903.1,348.9 926.3,330.3 933.2,325.7 939.0,325.1 970.5,323.4 990.4,321.1 1035.2,318.7 1050.2,314.2 1080.5,314.0 1091.5,313.4 1107.9,305.8 1128.4,295.5 1144.8,290.1 1162.6,281.2 1176.3,268.9 1196.8,244.3 1213.2,233.3 1224.1,229.9 1237.8,226.5 1254.2,218.3 1262.5,215.5 1280.5,215.5 1289.2,214.1 1313.2,212.5 1334.1,220.0 1340.5,223.4 1359.0,232.5 1374.1,236.1 1399.5,232.5 1434.2,232.5" fill="none" stroke="#3cb371" stroke-width="1" shape-rendering="crispEdges"/>
<polyline points="0.5,146.5 54.1,150.8 95.5,135.3 140.5,121.0 176.5,116.0 215.0,115.9 238.5,118.0 268.5,113.5 298.5,110.0 334.2,118.9 387.5,118.9 423.5,121.9 465.5,115.0 479.5,116.4 485.5,123.4 493.5,138.5 502.5,163.9 511.1,201.0 516.5,224.2 522.5,240.5 528.5,246.2 534.2,254.3 540.0,263.5 547.0,268.2 556.2,277.5 563.2,284.5 570.1,300.5 573.1,312.5 594.1,351.4 600.0,381.2 615.0,417.1 624.0,438.0 635.9,488.8 650.9,521.7 659.5,557.5 665.8,596.5 666.5,600.5" fill="none" stroke="#3cb371" stroke-width="1" shape-rendering="crispEdges"/>
<polyline points="721.5,600.5 722.5,596.5 740.5,581.5 755.5,565.9 771.9,562.9 794.3,572.5 809.3,565.0 821.2,542.5 836.1,491.8 851.1,479.9 860.1,476.9 875.0,461.9 887.0,456.0 904.9,423.1 922.8,375.3 939.3,360.3 952.7,361.8 964.5,358.8 980.5,358.8 1017.3,360.5 1027.9,356.2 1040.5,353.1 1047.5,354.0 1054.5,353.1 1063.5,354.0 1099.8,354.0 1106.5,351.1 1112.5,355.1 1120.0,356.9 1128.5,355.1 1135.0,354.0 1149.0,354.0 1155.5,355.1 1162.5,357.5 1177.0,349.9 1186.5,348.2 1195.0,343.6 1204.0,334.9 1211.0,331.5 1223.5,320.5 1235.1,314.0 1266.5,281.9 1272.0,282.5 1280.5,281.9 1295.2,275.3 1313.2,279.8 1331.1,290.3 1349.0,282.8 1367.0,269.4 1390.9,266.4 1434.2,264.3" fill="none" stroke="#3cb371" stroke-width="1" shape-rendering="crispEdges"/>
</g>
<g shape-rendering="crispEdges" clip-path="url(#mc)">
<rect x="2" y="115" width="1" height="3" fill="#000"/>
<rect x="2" y="120" width="1" height="1" fill="#000"/>
<rect x="0" y="118" width="5" height="2" fill="#000"/>
<rect x="10" y="119" width="1" height="1" fill="#000"/>
<rect x="8" y="115" width="5" height="4" fill="#000"/>
<rect x="9" y="116" width="3" height="2" fill="#fff"/>
<rect x="18" y="116" width="1" height="2" fill="#000"/>
<rect x="16" y="115" width="5" height="1" fill="#000"/>
<rect x="26" y="115" width="1" height="3" fill="#000"/>
<rect x="154" y="116" width="1" height="3" fill="#000"/>
<rect x="152" y="115" width="5" height="1" fill="#000"/>
<rect x="162" y="116" width="1" height="8" fill="#000"/>
<rect x="160" y="115" width="5" height="1" fill="#000"/>
<rect x="218" y="66" width="1" height="1" fill="#000"/>
<rect x="218" y="81" width="1" height="2" fill="#000"/>
<rect x="216" y="67" width="5" height="14" fill="#000"/>
<rect x="217" y="68" width="3" height="12" fill="#fff"/>
<rect x="226" y="65" width="1" height="3" fill="#000"/>
<rect x="226" y="71" width="1" height="1" fill="#000"/>
<rect x="224" y="68" width="5" height="3" fill="#000"/>
<rect x="234" y="71" width="1" height="1" fill="#000"/>
<rect x="232" y="68" width="5" height="3" fill="#000"/>
<rect x="242" y="71" width="1" height="2" fill="#000"/>
<rect x="240" y="67" width="5" height="4" fill="#000"/>
<rect x="250" y="68" width="1" height="1" fill="#000"/>
<rect x="250" y="76" width="1" height="3" fill="#000"/>
<rect x="248" y="69" width="5" height="7" fill="#000"/>
<rect x="258" y="67" width="1" height="7" fill="#000"/>
<rect x="256" y="74" width="5" height="5" fill="#000"/>
<rect x="266" y="73" width="1" height="1" fill="#000"/>
<rect x="266" y="79" width="1" height="8" fill="#000"/>
<rect x="264" y="74" width="5" height="5" fill="#000"/>
<rect x="265" y="75" width="3" height="3" fill="#fff"/>
<rect x="274" y="71" width="1" height="3" fill="#000"/>
<rect x="274" y="87" width="1" height="6" fill="#000"/>
<rect x="272" y="74" width="5" height="13" fill="#000"/>
<rect x="282" y="99" width="1" height="2" fill="#000"/>
<rect x="280" y="95" width="5" height="4" fill="#000"/>
<rect x="290" y="94" width="1" height="3" fill="#000"/>
<rect x="290" y="104" width="1" height="7" fill="#000"/>
<rect x="288" y="97" width="5" height="7" fill="#000"/>
<rect x="298" y="92" width="1" height="4" fill="#000"/>
<rect x="298" y="104" width="1" height="2" fill="#000"/>
<rect x="296" y="96" width="5" height="8" fill="#000"/>
<rect x="297" y="97" width="3" height="6" fill="#fff"/>
<rect x="306" y="87" width="1" height="7" fill="#000"/>
<rect x="306" y="98" width="1" height="1" fill="#000"/>
<rect x="304" y="94" width="5" height="4" fill="#000"/>
<rect x="305" y="95" width="3" height="2" fill="#fff"/>
<rect x="314" y="89" width="1" height="2" fill="#000"/>
<rect x="314" y="96" width="1" height="13" fill="#000"/>
<rect x="312" y="91" width="5" height="5" fill="#000"/>
<rect x="313" y="92" width="3" height="3" fill="#fff"/>
<rect x="322" y="87" width="1" height="3" fill="#000"/>
<rect x="322" y="118" width="1" height="6" fill="#000"/>
<rect x="320" y="90" width="5" height="28" fill="#000"/>
<rect x="330" y="114" width="1" height="1" fill="#000"/>
<rect x="328" y="115" width="5" height="7" fill="#000"/>
<rect x="329" y="116" width="3" height="5" fill="#fff"/>
<rect x="338" y="101" width="1" height="11" fill="#000"/>
<rect x="338" y="118" width="1" height="1" fill="#000"/>
<rect x="336" y="112" width="5" height="6" fill="#000"/>
<rect x="337" y="113" width="3" height="4" fill="#fff"/>
<rect x="346" y="89" width="1" height="5" fill="#000"/>
<rect x="344" y="94" width="5" height="20" fill="#000"/>
<rect x="345" y="95" width="3" height="18" fill="#fff"/>
<rect x="354" y="69" width="1" height="2" fill="#000"/>
<rect x="354" y="96" width="1" height="2" fill="#000"/>
<rect x="352" y="71" width="5" height="25" fill="#000"/>
<rect x="353" y="72" width="3" height="23" fill="#fff"/>
<rect x="362" y="60" width="1" height="5" fill="#000"/>
<rect x="362" y="73" width="1" height="2" fill="#000"/>
<rect x="360" y="65" width="5" height="8" fill="#000"/>
<rect x="361" y="66" width="3" height="6" fill="#fff"/>
<rect x="370" y="81" width="1" height="2" fill="#000"/>
<rect x="368" y="65" width="5" height="16" fill="#000"/>
<rect x="378" y="78" width="1" height="3" fill="#000"/>
<rect x="378" y="87" width="1" height="3" fill="#000"/>
<rect x="376" y="81" width="5" height="6" fill="#000"/>
<rect x="386" y="70" width="1" height="1" fill="#000"/>
<rect x="384" y="71" width="5" height="16" fill="#000"/>
<rect x="385" y="72" width="3" height="14" fill="#fff"/>
<rect x="394" y="64" width="1" height="6" fill="#000"/>
<rect x="394" y="73" width="1" height="3" fill="#000"/>
<rect x="392" y="70" width="5" height="3" fill="#000"/>
<rect x="402" y="57" width="1" height="5" fill="#000"/>
<rect x="402" y="72" width="1" height="2" fill="#000"/>
<rect x="400" y="62" width="5" height="10" fill="#000"/>
<rect x="401" y="63" width="3" height="8" fill="#fff"/>
<rect x="410" y="58" width="1" height="4" fill="#000"/>
<rect x="410" y="65" width="1" height="7" fill="#000"/>
<rect x="408" y="62" width="5" height="3" fill="#000"/>
<rect x="418" y="58" width="1" height="5" fill="#000"/>
<rect x="418" y="64" width="1" height="7" fill="#000"/>
<rect x="416" y="63" width="5" height="1" fill="#000"/>
<rect x="426" y="60" width="1" height="1" fill="#000"/>
<rect x="424" y="61" width="5" height="5" fill="#000"/>
<rect x="425" y="62" width="3" height="3" fill="#fff"/>
<rect x="434" y="60" width="1" height="1" fill="#000"/>
<rect x="434" y="67" width="1" height="2" fill="#000"/>
<rect x="432" y="61" width="5" height="6" fill="#000"/>
<rect x="442" y="70" width="1" height="9" fill="#000"/>
<rect x="440" y="65" width="5" height="5" fill="#000"/>
<rect x="450" y="63" width="1" height="1" fill="#000"/>
<rect x="450" y="70" width="1" height="3" fill="#000"/>
<rect x="448" y="64" width="5" height="6" fill="#000"/>
<rect x="449" y="65" width="3" height="4" fill="#fff"/>
<rect x="458" y="62" width="1" height="2" fill="#000"/>
<rect x="458" y="81" width="1" height="6" fill="#000"/>
<rect x="456" y="64" width="5" height="17" fill="#000"/>
<rect x="466" y="75" width="1" height="3" fill="#000"/>
<rect x="466" y="84" width="1" height="5" fill="#000"/>
<rect x="464" y="78" width="5" height="6" fill="#000"/>
<rect x="474" y="100" width="1" height="3" fill="#000"/>
<rect x="472" y="93" width="5" height="7" fill="#000"/>
<rect x="482" y="96" width="1" height="2" fill="#000"/>
<rect x="482" y="126" width="1" height="8" fill="#000"/>
<rect x="480" y="98" width="5" height="28" fill="#000"/>
<rect x="490" y="116" width="1" height="9" fill="#000"/>
<rect x="490" y="163" width="1" height="13" fill="#000"/>
<rect x="488" y="125" width="5" height="38" fill="#000"/>
<rect x="498" y="149" width="1" height="11" fill="#000"/>
<rect x="498" y="181" width="1" height="8" fill="#000"/>
<rect x="496" y="160" width="5" height="21" fill="#000"/>
<rect x="506" y="178" width="1" height="1" fill="#000"/>
<rect x="506" y="237" width="1" height="10" fill="#000"/>
<rect x="504" y="179" width="5" height="58" fill="#000"/>
<rect x="514" y="229" width="1" height="5" fill="#000"/>
<rect x="514" y="241" width="1" height="39" fill="#000"/>
<rect x="512" y="234" width="5" height="7" fill="#000"/>
<rect x="522" y="254" width="1" height="1" fill="#000"/>
<rect x="522" y="262" width="1" height="11" fill="#000"/>
<rect x="520" y="255" width="5" height="7" fill="#000"/>
<rect x="530" y="186" width="1" height="3" fill="#000"/>
<rect x="530" y="261" width="1" height="5" fill="#000"/>
<rect x="528" y="189" width="5" height="72" fill="#000"/>
<rect x="529" y="190" width="3" height="70" fill="#fff"/>
<rect x="538" y="170" width="1" height="19" fill="#000"/>
<rect x="538" y="229" width="1" height="5" fill="#000"/>
<rect x="536" y="189" width="5" height="40" fill="#000"/>
<rect x="546" y="168" width="1" height="9" fill="#000"/>
<rect x="544" y="177" width="5" height="51" fill="#000"/>
<rect x="545" y="178" width="3" height="49" fill="#fff"/>
<rect x="554" y="177" width="1" height="1" fill="#000"/>
<rect x="554" y="212" width="1" height="11" fill="#000"/>
<rect x="552" y="178" width="5" height="34" fill="#000"/>
<rect x="562" y="206" width="1" height="4" fill="#000"/>
<rect x="562" y="230" width="1" height="27" fill="#000"/>
<rect x="560" y="210" width="5" height="20" fill="#000"/>
<rect x="570" y="270" width="1" height="3" fill="#000"/>
<rect x="570" y="281" width="1" height="1" fill="#000"/>
<rect x="568" y="273" width="5" height="8" fill="#000"/>
<rect x="578" y="274" width="1" height="5" fill="#000"/>
<rect x="578" y="298" width="1" height="40" fill="#000"/>
<rect x="576" y="279" width="5" height="19" fill="#000"/>
<rect x="586" y="263" width="1" height="22" fill="#000"/>
<rect x="586" y="297" width="1" height="31" fill="#000"/>
<rect x="584" y="285" width="5" height="12" fill="#000"/>
<rect x="585" y="286" width="3" height="10" fill="#fff"/>
<rect x="594" y="279" width="1" height="6" fill="#000"/>
<rect x="594" y="334" width="1" height="10" fill="#000"/>
<rect x="592" y="285" width="5" height="49" fill="#000"/>
<rect x="602" y="329" width="1" height="2" fill="#000"/>
<rect x="602" y="456" width="1" height="10" fill="#000"/>
<rect x="600" y="331" width="5" height="125" fill="#000"/>
<rect x="610" y="349" width="1" height="5" fill="#000"/>
<rect x="610" y="456" width="1" height="20" fill="#000"/>
<rect x="608" y="354" width="5" height="102" fill="#000"/>
<rect x="609" y="355" width="3" height="100" fill="#fff"/>
<rect x="618" y="402" width="1" height="1" fill="#000"/>
<rect x="616" y="403" width="5" height="2" fill="#000"/>
<rect x="626" y="464" width="1" height="27" fill="#000"/>
<rect x="624" y="404" width="5" height="60" fill="#000"/>
<rect x="634" y="430" width="1" height="32" fill="#000"/>
<rect x="634" y="483" width="1" height="17" fill="#000"/>
<rect x="632" y="462" width="5" height="21" fill="#000"/>
<rect x="642" y="466" width="1" height="15" fill="#000"/>
<rect x="642" y="483" width="1" height="67" fill="#000"/>
<rect x="640" y="481" width="5" height="2" fill="#000"/>
<rect x="650" y="477" width="1" height="5" fill="#000"/>
<rect x="650" y="511" width="1" height="36" fill="#000"/>
<rect x="648" y="482" width="5" height="29" fill="#000"/>
<rect x="658" y="452" width="1" height="58" fill="#000"/>
<rect x="658" y="538" width="1" height="3" fill="#000"/>
<rect x="656" y="510" width="5" height="28" fill="#000"/>
<rect x="666" y="561" width="1" height="14" fill="#000"/>
<rect x="664" y="575" width="5" height="8" fill="#000"/>
<rect x="665" y="576" width="3" height="6" fill="#fff"/>
<rect x="674" y="502" width="1" height="48" fill="#000"/>
<rect x="674" y="575" width="1" height="9" fill="#000"/>
<rect x="672" y="550" width="5" height="25" fill="#000"/>
<rect x="673" y="551" width="3" height="23" fill="#fff"/>
<rect x="682" y="449" width="1" height="20" fill="#000"/>
<rect x="682" y="550" width="1" height="6" fill="#000"/>
<rect x="680" y="469" width="5" height="81" fill="#000"/>
<rect x="681" y="470" width="3" height="79" fill="#fff"/>
<rect x="690" y="406" width="1" height="36" fill="#000"/>
<rect x="690" y="471" width="1" height="10" fill="#000"/>
<rect x="688" y="442" width="5" height="29" fill="#000"/>
<rect x="689" y="443" width="3" height="27" fill="#fff"/>
<rect x="698" y="377" width="1" height="1" fill="#000"/>
<rect x="698" y="444" width="1" height="27" fill="#000"/>
<rect x="696" y="378" width="5" height="66" fill="#000"/>
<rect x="697" y="379" width="3" height="64" fill="#fff"/>
<rect x="706" y="377" width="1" height="1" fill="#000"/>
<rect x="706" y="427" width="1" height="7" fill="#000"/>
<rect x="704" y="378" width="5" height="49" fill="#000"/>
<rect x="714" y="437" width="1" height="4" fill="#000"/>
<rect x="714" y="446" width="1" height="2" fill="#000"/>
<rect x="712" y="441" width="5" height="5" fill="#000"/>
<rect x="713" y="442" width="3" height="3" fill="#fff"/>
<rect x="722" y="390" width="1" height="2" fill="#000"/>
<rect x="722" y="442" width="1" height="3" fill="#000"/>
<rect x="720" y="392" width="5" height="50" fill="#000"/>
<rect x="721" y="393" width="3" height="48" fill="#fff"/>
<rect x="730" y="384" width="1" height="7" fill="#000"/>
<rect x="730" y="426" width="1" height="1" fill="#000"/>
<rect x="728" y="391" width="5" height="35" fill="#000"/>
<rect x="738" y="421" width="1" height="3" fill="#000"/>
<rect x="738" y="451" width="1" height="13" fill="#000"/>
<rect x="736" y="424" width="5" height="27" fill="#000"/>
<rect x="746" y="430" width="1" height="9" fill="#000"/>
<rect x="746" y="451" width="1" height="20" fill="#000"/>
<rect x="744" y="439" width="5" height="12" fill="#000"/>
<rect x="745" y="440" width="3" height="10" fill="#fff"/>
<rect x="754" y="432" width="1" height="8" fill="#000"/>
<rect x="754" y="451" width="1" height="8" fill="#000"/>
<rect x="752" y="440" width="5" height="11" fill="#000"/>
<rect x="762" y="435" width="1" height="1" fill="#000"/>
<rect x="760" y="436" width="5" height="4" fill="#000"/>
<rect x="761" y="437" width="3" height="2" fill="#fff"/>
<rect x="770" y="371" width="1" height="1" fill="#000"/>
<rect x="768" y="372" width="5" height="65" fill="#000"/>
<rect x="769" y="373" width="3" height="63" fill="#fff"/>
<rect x="778" y="334" width="1" height="38" fill="#000"/>
<rect x="778" y="379" width="1" height="10" fill="#000"/>
<rect x="776" y="372" width="5" height="7" fill="#000"/>
<rect x="786" y="336" width="1" height="1" fill="#000"/>
<rect x="786" y="379" width="1" height="13" fill="#000"/>
<rect x="784" y="337" width="5" height="42" fill="#000"/>
<rect x="785" y="338" width="3" height="40" fill="#fff"/>
<rect x="794" y="315" width="1" height="9" fill="#000"/>
<rect x="794" y="340" width="1" height="16" fill="#000"/>
<rect x="792" y="324" width="5" height="16" fill="#000"/>
<rect x="793" y="325" width="3" height="14" fill="#fff"/>
<rect x="802" y="334" width="1" height="2" fill="#000"/>
<rect x="802" y="343" width="1" height="2" fill="#000"/>
<rect x="800" y="336" width="5" height="7" fill="#000"/>
<rect x="810" y="328" width="1" height="10" fill="#000"/>
<rect x="810" y="342" width="1" height="17" fill="#000"/>
<rect x="808" y="338" width="5" height="4" fill="#000"/>
<rect x="809" y="339" width="3" height="2" fill="#fff"/>
<rect x="818" y="311" width="1" height="6" fill="#000"/>
<rect x="818" y="339" width="1" height="7" fill="#000"/>
<rect x="816" y="317" width="5" height="22" fill="#000"/>
<rect x="817" y="318" width="3" height="20" fill="#fff"/>
<rect x="826" y="348" width="1" height="5" fill="#000"/>
<rect x="824" y="317" width="5" height="31" fill="#000"/>
<rect x="834" y="295" width="1" height="7" fill="#000"/>
<rect x="834" y="348" width="1" height="6" fill="#000"/>
<rect x="832" y="302" width="5" height="46" fill="#000"/>
<rect x="833" y="303" width="3" height="44" fill="#fff"/>
<rect x="842" y="296" width="1" height="6" fill="#000"/>
<rect x="842" y="305" width="1" height="20" fill="#000"/>
<rect x="840" y="302" width="5" height="3" fill="#000"/>
<rect x="850" y="308" width="1" height="3" fill="#000"/>
<rect x="850" y="312" width="1" height="3" fill="#000"/>
<rect x="848" y="311" width="5" height="1" fill="#000"/>
<rect x="858" y="301" width="1" height="9" fill="#000"/>
<rect x="858" y="332" width="1" height="5" fill="#000"/>
<rect x="856" y="310" width="5" height="22" fill="#000"/>
<rect x="866" y="324" width="1" height="6" fill="#000"/>
<rect x="866" y="357" width="1" height="9" fill="#000"/>
<rect x="864" y="330" width="5" height="27" fill="#000"/>
<rect x="874" y="333" width="1" height="9" fill="#000"/>
<rect x="874" y="356" width="1" height="10" fill="#000"/>
<rect x="872" y="342" width="5" height="14" fill="#000"/>
<rect x="873" y="343" width="3" height="12" fill="#fff"/>
<rect x="882" y="320" width="1" height="22" fill="#000"/>
<rect x="882" y="345" width="1" height="2" fill="#000"/>
<rect x="880" y="342" width="5" height="3" fill="#000"/>
<rect x="890" y="323" width="1" height="3" fill="#000"/>
<rect x="890" y="345" width="1" height="5" fill="#000"/>
<rect x="888" y="326" width="5" height="19" fill="#000"/>
<rect x="889" y="327" width="3" height="17" fill="#fff"/>
<rect x="898" y="326" width="1" height="2" fill="#000"/>
<rect x="896" y="328" width="5" height="3" fill="#000"/>
<rect x="906" y="305" width="1" height="4" fill="#000"/>
<rect x="906" y="330" width="1" height="2" fill="#000"/>
<rect x="904" y="309" width="5" height="21" fill="#000"/>
<rect x="905" y="310" width="3" height="19" fill="#fff"/>
<rect x="914" y="290" width="1" height="17" fill="#000"/>
<rect x="914" y="311" width="1" height="6" fill="#000"/>
<rect x="912" y="307" width="5" height="4" fill="#000"/>
<rect x="913" y="308" width="3" height="2" fill="#fff"/>
<rect x="922" y="279" width="1" height="4" fill="#000"/>
<rect x="922" y="309" width="1" height="1" fill="#000"/>
<rect x="920" y="283" width="5" height="26" fill="#000"/>
<rect x="921" y="284" width="3" height="24" fill="#fff"/>
<rect x="930" y="274" width="1" height="9" fill="#000"/>
<rect x="930" y="310" width="1" height="8" fill="#000"/>
<rect x="928" y="283" width="5" height="27" fill="#000"/>
<rect x="938" y="306" width="1" height="2" fill="#000"/>
<rect x="938" y="329" width="1" height="4" fill="#000"/>
<rect x="936" y="308" width="5" height="21" fill="#000"/>
<rect x="946" y="341" width="1" height="1" fill="#000"/>
<rect x="946" y="345" width="1" height="2" fill="#000"/>
<rect x="944" y="342" width="5" height="3" fill="#000"/>
<rect x="954" y="325" width="1" height="1" fill="#000"/>
<rect x="954" y="345" width="1" height="3" fill="#000"/>
<rect x="952" y="326" width="5" height="19" fill="#000"/>
<rect x="953" y="327" width="3" height="17" fill="#fff"/>
<rect x="962" y="307" width="1" height="11" fill="#000"/>
<rect x="960" y="318" width="5" height="10" fill="#000"/>
<rect x="961" y="319" width="3" height="8" fill="#fff"/>
<rect x="970" y="310" width="1" height="8" fill="#000"/>
<rect x="970" y="334" width="1" height="3" fill="#000"/>
<rect x="968" y="318" width="5" height="16" fill="#000"/>
<rect x="978" y="310" width="1" height="2" fill="#000"/>
<rect x="976" y="312" width="5" height="21" fill="#000"/>
<rect x="977" y="313" width="3" height="19" fill="#fff"/>
<rect x="984" y="297" width="5" height="16" fill="#000"/>
<rect x="985" y="298" width="3" height="14" fill="#fff"/>
<rect x="994" y="292" width="1" height="1" fill="#000"/>
<rect x="994" y="298" width="1" height="2" fill="#000"/>
<rect x="992" y="293" width="5" height="5" fill="#000"/>
<rect x="993" y="294" width="3" height="3" fill="#fff"/>
<rect x="1002" y="288" width="1" height="4" fill="#000"/>
<rect x="1002" y="308" width="1" height="5" fill="#000"/>
<rect x="1000" y="292" width="5" height="16" fill="#000"/>
<rect x="1010" y="296" width="1" height="10" fill="#000"/>
<rect x="1010" y="339" width="1" height="1" fill="#000"/>
<rect x="1008" y="306" width="5" height="33" fill="#000"/>
<rect x="1018" y="320" width="1" height="16" fill="#000"/>
<rect x="1018" y="347" width="1" height="11" fill="#000"/>
<rect x="1016" y="336" width="5" height="11" fill="#000"/>
<rect x="1026" y="346" width="1" height="24" fill="#000"/>
<rect x="1024" y="328" width="5" height="18" fill="#000"/>
<rect x="1025" y="329" width="3" height="16" fill="#fff"/>
<rect x="1034" y="325" width="1" height="2" fill="#000"/>
<rect x="1034" y="334" width="1" height="12" fill="#000"/>
<rect x="1032" y="327" width="5" height="7" fill="#000"/>
<rect x="1042" y="321" width="1" height="2" fill="#000"/>
<rect x="1042" y="325" width="1" height="1" fill="#000"/>
<rect x="1040" y="323" width="5" height="2" fill="#000"/>
<rect x="1050" y="281" width="1" height="4" fill="#000"/>
<rect x="1050" y="325" width="1" height="1" fill="#000"/>
<rect x="1048" y="285" width="5" height="40" fill="#000"/>
<rect x="1049" y="286" width="3" height="38" fill="#fff"/>
<rect x="1058" y="275" width="1" height="9" fill="#000"/>
<rect x="1058" y="301" width="1" height="7" fill="#000"/>
<rect x="1056" y="284" width="5" height="17" fill="#000"/>
<rect x="1066" y="283" width="1" height="5" fill="#000"/>
<rect x="1064" y="288" width="5" height="13" fill="#000"/>
<rect x="1065" y="289" width="3" height="11" fill="#fff"/>
<rect x="1074" y="280" width="1" height="8" fill="#000"/>
<rect x="1074" y="290" width="1" height="8" fill="#000"/>
<rect x="1072" y="288" width="5" height="2" fill="#000"/>
<rect x="1082" y="287" width="1" height="1" fill="#000"/>
<rect x="1082" y="292" width="1" height="15" fill="#000"/>
<rect x="1080" y="288" width="5" height="4" fill="#000"/>
<rect x="1090" y="284" width="1" height="1" fill="#000"/>
<rect x="1088" y="285" width="5" height="3" fill="#000"/>
<rect x="1098" y="276" width="1" height="4" fill="#000"/>
<rect x="1098" y="286" width="1" height="6" fill="#000"/>
<rect x="1096" y="280" width="5" height="6" fill="#000"/>
<rect x="1097" y="281" width="3" height="4" fill="#fff"/>
<rect x="1106" y="258" width="1" height="8" fill="#000"/>
<rect x="1106" y="282" width="1" height="1" fill="#000"/>
<rect x="1104" y="266" width="5" height="16" fill="#000"/>
<rect x="1105" y="267" width="3" height="14" fill="#fff"/>
<rect x="1114" y="267" width="1" height="3" fill="#000"/>
<rect x="1112" y="234" width="5" height="33" fill="#000"/>
<rect x="1113" y="235" width="3" height="31" fill="#fff"/>
<rect x="1122" y="228" width="1" height="7" fill="#000"/>
<rect x="1120" y="235" width="5" height="16" fill="#000"/>
<rect x="1130" y="250" width="1" height="16" fill="#000"/>
<rect x="1128" y="242" width="5" height="8" fill="#000"/>
<rect x="1129" y="243" width="3" height="6" fill="#fff"/>
<rect x="1138" y="256" width="1" height="3" fill="#000"/>
<rect x="1136" y="253" width="5" height="3" fill="#000"/>
<rect x="1137" y="254" width="3" height="1" fill="#fff"/>
<rect x="1146" y="240" width="1" height="9" fill="#000"/>
<rect x="1146" y="254" width="1" height="3" fill="#000"/>
<rect x="1144" y="249" width="5" height="5" fill="#000"/>
<rect x="1145" y="250" width="3" height="3" fill="#fff"/>
<rect x="1152" y="227" width="5" height="24" fill="#000"/>
<rect x="1153" y="228" width="3" height="22" fill="#fff"/>
<rect x="1162" y="229" width="1" height="2" fill="#000"/>
<rect x="1160" y="204" width="5" height="25" fill="#000"/>
<rect x="1161" y="205" width="3" height="23" fill="#fff"/>
<rect x="1170" y="202" width="1" height="2" fill="#000"/>
<rect x="1170" y="210" width="1" height="8" fill="#000"/>
<rect x="1168" y="204" width="5" height="6" fill="#000"/>
<rect x="1178" y="158" width="1" height="12" fill="#000"/>
<rect x="1176" y="170" width="5" height="40" fill="#000"/>
<rect x="1177" y="171" width="3" height="38" fill="#fff"/>
<rect x="1186" y="159" width="1" height="2" fill="#000"/>
<rect x="1184" y="161" width="5" height="4" fill="#000"/>
<rect x="1185" y="162" width="3" height="2" fill="#fff"/>
<rect x="1194" y="147" width="1" height="1" fill="#000"/>
<rect x="1194" y="162" width="1" height="11" fill="#000"/>
<rect x="1192" y="148" width="5" height="14" fill="#000"/>
<rect x="1193" y="149" width="3" height="12" fill="#fff"/>
<rect x="1202" y="144" width="1" height="4" fill="#000"/>
<rect x="1202" y="159" width="1" height="10" fill="#000"/>
<rect x="1200" y="148" width="5" height="11" fill="#000"/>
<rect x="1210" y="151" width="1" height="6" fill="#000"/>
<rect x="1208" y="157" width="5" height="30" fill="#000"/>
<rect x="1218" y="178" width="1" height="6" fill="#000"/>
<rect x="1218" y="250" width="1" height="13" fill="#000"/>
<rect x="1216" y="184" width="5" height="66" fill="#000"/>
<rect x="1226" y="221" width="1" height="19" fill="#000"/>
<rect x="1226" y="248" width="1" height="15" fill="#000"/>
<rect x="1224" y="240" width="5" height="8" fill="#000"/>
<rect x="1225" y="241" width="3" height="6" fill="#fff"/>
<rect x="1234" y="250" width="1" height="1" fill="#000"/>
<rect x="1234" y="256" width="1" height="3" fill="#000"/>
<rect x="1232" y="251" width="5" height="5" fill="#000"/>
<rect x="1242" y="257" width="1" height="29" fill="#000"/>
<rect x="1240" y="217" width="5" height="40" fill="#000"/>
<rect x="1241" y="218" width="3" height="38" fill="#fff"/>
<rect x="1250" y="183" width="1" height="25" fill="#000"/>
<rect x="1250" y="218" width="1" height="11" fill="#000"/>
<rect x="1248" y="208" width="5" height="10" fill="#000"/>
<rect x="1249" y="209" width="3" height="8" fill="#fff"/>
<rect x="1258" y="196" width="1" height="11" fill="#000"/>
<rect x="1256" y="207" width="5" height="19" fill="#000"/>
<rect x="1266" y="212" width="1" height="3" fill="#000"/>
<rect x="1266" y="226" width="1" height="12" fill="#000"/>
<rect x="1264" y="215" width="5" height="11" fill="#000"/>
<rect x="1265" y="216" width="3" height="9" fill="#fff"/>
<rect x="1274" y="204" width="1" height="11" fill="#000"/>
<rect x="1272" y="215" width="5" height="26" fill="#000"/>
<rect x="1282" y="242" width="1" height="2" fill="#000"/>
<rect x="1282" y="245" width="1" height="4" fill="#000"/>
<rect x="1280" y="244" width="5" height="1" fill="#000"/>
<rect x="1290" y="214" width="1" height="1" fill="#000"/>
<rect x="1290" y="244" width="1" height="3" fill="#000"/>
<rect x="1288" y="215" width="5" height="29" fill="#000"/>
<rect x="1289" y="216" width="3" height="27" fill="#fff"/>
<rect x="1298" y="205" width="1" height="11" fill="#000"/>
<rect x="1298" y="222" width="1" height="21" fill="#000"/>
<rect x="1296" y="216" width="5" height="6" fill="#000"/>
<rect x="1306" y="213" width="1" height="7" fill="#000"/>
<rect x="1306" y="252" width="1" height="6" fill="#000"/>
<rect x="1304" y="220" width="5" height="32" fill="#000"/>
<rect x="1314" y="234" width="1" height="5" fill="#000"/>
<rect x="1314" y="251" width="1" height="15" fill="#000"/>
<rect x="1312" y="239" width="5" height="12" fill="#000"/>
<rect x="1313" y="240" width="3" height="10" fill="#fff"/>
<rect x="1322" y="234" width="1" height="6" fill="#000"/>
<rect x="1322" y="267" width="1" height="6" fill="#000"/>
<rect x="1320" y="240" width="5" height="27" fill="#000"/>
<rect x="1330" y="268" width="1" height="2" fill="#000"/>
<rect x="1330" y="272" width="1" height="4" fill="#000"/>
<rect x="1328" y="270" width="5" height="2" fill="#000"/>
<rect x="1338" y="236" width="1" height="3" fill="#000"/>
<rect x="1336" y="239" width="5" height="31" fill="#000"/>
<rect x="1337" y="240" width="3" height="29" fill="#fff"/>
<rect x="1346" y="229" width="1" height="7" fill="#000"/>
<rect x="1346" y="240" width="1" height="12" fill="#000"/>
<rect x="1344" y="236" width="5" height="4" fill="#000"/>
<rect x="1345" y="237" width="3" height="2" fill="#fff"/>
<rect x="1354" y="223" width="1" height="13" fill="#000"/>
<rect x="1354" y="239" width="1" height="9" fill="#000"/>
<rect x="1352" y="236" width="5" height="3" fill="#000"/>
<rect x="1362" y="215" width="1" height="15" fill="#000"/>
<rect x="1362" y="239" width="1" height="3" fill="#000"/>
<rect x="1360" y="230" width="5" height="9" fill="#000"/>
<rect x="1361" y="231" width="3" height="7" fill="#fff"/>
<rect x="1370" y="238" width="1" height="7" fill="#000"/>
<rect x="1368" y="230" width="5" height="8" fill="#000"/>
<rect x="1376" y="226" width="5" height="4" fill="#000"/>
<rect x="1377" y="227" width="3" height="2" fill="#fff"/>
<rect x="1384" y="211" width="5" height="17" fill="#000"/>
<rect x="1385" y="212" width="3" height="15" fill="#fff"/>
<rect x="1394" y="228" width="1" height="3" fill="#000"/>
<rect x="1392" y="211" width="5" height="17" fill="#000"/>
<rect x="1402" y="218" width="1" height="1" fill="#000"/>
<rect x="1402" y="229" width="1" height="2" fill="#000"/>
<rect x="1400" y="219" width="5" height="10" fill="#000"/>
<rect x="1401" y="220" width="3" height="8" fill="#fff"/>
<rect x="1410" y="218" width="1" height="1" fill="#000"/>
<rect x="1410" y="235" width="1" height="6" fill="#000"/>
<rect x="1408" y="219" width="5" height="16" fill="#000"/>
<rect x="1418" y="235" width="1" height="18" fill="#000"/>
<rect x="1416" y="219" width="5" height="16" fill="#000"/>
<rect x="1417" y="220" width="3" height="14" fill="#fff"/>
<rect x="1426" y="212" width="1" height="2" fill="#000"/>
<rect x="1424" y="214" width="5" height="4" fill="#000"/>
<rect x="1434" y="211" width="1" height="4" fill="#000"/>
<rect x="1434" y="219" width="1" height="5" fill="#000"/>
<rect x="1432" y="215" width="5" height="4" fill="#000"/>
</g>
<path d="M1441 30 L1451 30 L1446 35 z" fill="#c0c0c0"/>
<path d="M1333.0 279.0 L1381.1 213.2 M1373.6 215.3 L1382.0 212.0 L1381.3 221.0" stroke="#ff0000" stroke-width="4" fill="none" stroke-linejoin="round" stroke-linecap="round"/>
<path d="M1387.0 213.0 L1413.1 247.8 M1413.2 240.0 L1414.0 249.0 L1405.6 245.8" stroke="#ff0000" stroke-width="4" fill="none" stroke-linejoin="round" stroke-linecap="round"/>
<path d="M1417.5 249.0 L1434.1 194.9 M1426.5 199.5 L1434.5 193.5 L1437.8 203.0" stroke="#ff0000" stroke-width="4" fill="none" stroke-linejoin="round" stroke-linecap="round"/>
<path d="M1435.0 194.0 L1445.2 211.7 M1446.9 204.0 L1446.0 213.0 L1437.8 209.3" stroke="#ff0000" stroke-width="4" fill="none" stroke-linejoin="round" stroke-linecap="round"/>
<rect x="1351" y="204" width="109" height="7" fill="#00e800" shape-rendering="crispEdges"/>
<rect x="1469.5" y="194.5" width="73" height="24" fill="none" stroke="#ff0000" stroke-width="1" shape-rendering="crispEdges"/>
<text x="1471" y="215" font-size="22" fill="#ff0000" text-anchor="start" font-weight="normal" textLength="70.5" lengthAdjust="spacingAndGlyphs">26265.4</text>
<g fill="none" stroke="#00ff00" stroke-width="1.6" stroke-linecap="square" stroke-linejoin="miter"><polyline points="1460.19,165.00 1455.90,170.07"/><polyline points="1458.63,167.15 1466.43,167.15 1460.97,173.19 1454.34,175.92"/><polyline points="1459.02,170.07 1462.14,172.02"/><polyline points="1462.92,173.58 1457.46,178.65"/><polyline points="1461.36,175.92 1469.55,175.92 1462.14,182.94 1453.56,184.50"/><polyline points="1460.58,178.65 1464.48,180.99"/></g><g fill="none" stroke="#00ff00" stroke-width="1.6" stroke-linecap="square" stroke-linejoin="miter"><polyline points="1484.25,165.00 1484.25,167.53"/><polyline points="1476.45,168.12 1476.45,171.24"/><polyline points="1476.45,168.12 1492.05,168.12 1492.05,171.24"/><polyline points="1481.91,170.07 1478.40,173.97"/><polyline points="1486.39,170.07 1490.49,173.38"/><polyline points="1478.40,176.31 1490.10,176.31"/><polyline points="1484.25,176.31 1484.25,183.13"/><polyline points="1475.28,183.33 1493.22,183.33"/></g><g fill="none" stroke="#00ff00" stroke-width="1.6" stroke-linecap="square" stroke-linejoin="miter"><polyline points="1497.78,168.90 1504.80,168.90"/><polyline points="1502.07,165.59 1498.95,175.92 1505.19,175.92"/><polyline points="1502.07,172.02 1502.07,184.50"/><polyline points="1497.59,180.21 1505.38,178.65"/><polyline points="1506.36,169.29 1515.72,169.29"/><polyline points="1510.85,165.59 1509.29,176.70"/><polyline points="1505.78,173.19 1516.31,173.19"/><polyline points="1507.92,176.90 1514.74,176.90 1511.43,180.99"/><polyline points="1509.67,180.21 1513.77,184.31"/></g><g fill="none" stroke="#00ff00" stroke-width="1.6" stroke-linecap="square" stroke-linejoin="miter"><polyline points="1520.09,170.85 1527.30,170.85"/><polyline points="1523.40,165.59 1523.40,183.72 1521.64,182.55"/><polyline points="1520.09,179.04 1527.69,175.92"/><polyline points="1537.44,165.78 1530.42,168.51"/><polyline points="1530.42,168.51 1530.42,176.70 1528.47,184.50"/><polyline points="1530.42,173.97 1538.81,173.97"/><polyline points="1534.90,173.97 1534.90,184.50"/></g><g fill="none" stroke="#00ff00" stroke-width="1.6" stroke-linecap="square" stroke-linejoin="miter"><polyline points="1551.36,165.00 1551.36,170.85"/><polyline points="1551.36,168.12 1558.38,168.12"/><polyline points="1545.90,170.85 1545.90,177.87"/><polyline points="1545.90,170.85 1557.60,170.85 1557.60,177.87"/><polyline points="1545.90,177.48 1557.60,177.48"/><polyline points="1544.34,180.60 1542.59,184.31"/><polyline points="1548.63,180.99 1549.61,184.31"/><polyline points="1553.51,180.99 1554.87,184.31"/><polyline points="1558.18,180.60 1560.72,184.31"/></g>
<path d="M0 35.5 L4.5 40 L0 40 z" fill="#000"/>
<text x="9.5" y="41" font-size="9.8" fill="#000" text-anchor="start" font-weight="normal" textLength="48.3" lengthAdjust="spacingAndGlyphs" stroke="#000" stroke-width="0.2">DJ30-,Daily</text>
<text x="63.8" y="41" font-size="9.8" fill="#000" text-anchor="start" font-weight="normal" textLength="141.5" lengthAdjust="spacingAndGlyphs" stroke="#000" stroke-width="0.2">26063.0 26521.0 25912.0 26035.0</text>
<defs><linearGradient id="gt" x1="0" y1="0" x2="0" y2="1"><stop offset="0" stop-color="#ff5a5a"/><stop offset="1" stop-color="#e02a2a"/></linearGradient><linearGradient id="gb" x1="0" y1="0" x2="0" y2="1"><stop offset="0" stop-color="#e83a3a"/><stop offset="1" stop-color="#b00000"/></linearGradient><linearGradient id="gbtn" x1="0" y1="0" x2="0" y2="1"><stop offset="0" stop-color="#f2f2f2"/><stop offset="0.45" stop-color="#e6e6e6"/><stop offset="0.5" stop-color="#d8d8d8"/><stop offset="1" stop-color="#d0d0d0"/></linearGradient></defs>
<g shape-rendering="crispEdges">
<rect x="0" y="49" width="49" height="24" fill="#c81010"/>
<rect x="0" y="50" width="48" height="23" fill="url(#gt)"/>
<rect x="164" y="49" width="53" height="24" fill="#c81010"/>
<rect x="165" y="50" width="51" height="23" fill="url(#gt)"/>
<rect x="0" y="73" width="106" height="40" fill="#c00808"/>
<rect x="0" y="74" width="105" height="38" fill="url(#gb)"/>
<rect x="108" y="73" width="109" height="40" fill="#c00808"/>
<rect x="109" y="74" width="107" height="38" fill="url(#gb)"/>
<rect x="1" y="72" width="45" height="1" fill="#800000"/>
<rect x="1" y="73" width="45" height="1" fill="#f07070"/>
<rect x="168" y="72" width="44" height="1" fill="#800000"/>
<rect x="168" y="73" width="44" height="1" fill="#f07070"/>
<rect x="51" y="49" width="111" height="22" fill="#a8a8b0"/>
<rect x="52" y="50" width="109" height="20" fill="#fff"/>
<rect x="52" y="50" width="20" height="20" fill="url(#gbtn)"/>
<rect x="72" y="50" width="1" height="20" fill="#b0b0b8"/>
<rect x="140" y="50" width="1" height="20" fill="#b0b0b8"/>
<rect x="141" y="50" width="20" height="20" fill="url(#gbtn)"/>
</g>
<path d="M59 58 h6 l-3 3 z" fill="#4060c0"/><path d="M148 61 h6 l-3 -3 z" fill="#4060c0"/>
<text x="113.8" y="64" font-size="12" fill="#000" text-anchor="start" font-weight="normal" textLength="22.7" lengthAdjust="spacingAndGlyphs">1.00</text>
<text x="9.5" y="65" font-size="12" fill="#fff" text-anchor="start" font-weight="normal" textLength="25.5" lengthAdjust="spacingAndGlyphs">SELL</text>
<text x="177.6" y="65" font-size="12" fill="#fff" text-anchor="start" font-weight="normal" textLength="23" lengthAdjust="spacingAndGlyphs">BUY</text>
<text x="13" y="104" font-size="12" fill="#fff" text-anchor="start" font-weight="bold" textLength="34" lengthAdjust="spacingAndGlyphs">26033</text>
<rect x="52" y="100" width="4" height="4" rx="0.8" fill="#fff"/>
<text x="59.5" y="104" font-size="33" fill="#fff" text-anchor="start" font-weight="normal" textLength="15" lengthAdjust="spacingAndGlyphs">5</text>
<text x="123" y="104" font-size="12" fill="#fff" text-anchor="start" font-weight="bold" textLength="34.6" lengthAdjust="spacingAndGlyphs">26044</text>
<rect x="163" y="100" width="4" height="4" rx="0.8" fill="#fff"/>
<text x="170.5" y="104" font-size="33" fill="#fff" text-anchor="start" font-weight="normal" textLength="15" lengthAdjust="spacingAndGlyphs">5</text>
<g shape-rendering="crispEdges">
<rect x="1686" y="32" width="2" height="1" fill="#000"/>
<rect x="1686" y="65" width="2" height="1" fill="#000"/>
<rect x="1686" y="98" width="2" height="1" fill="#000"/>
<rect x="1686" y="131" width="2" height="1" fill="#000"/>
<rect x="1686" y="164" width="2" height="1" fill="#000"/>
<rect x="1686" y="197" width="2" height="1" fill="#000"/>
<rect x="1686" y="230" width="2" height="1" fill="#000"/>
<rect x="1686" y="263" width="2" height="1" fill="#000"/>
<rect x="1686" y="296" width="2" height="1" fill="#000"/>
<rect x="1686" y="329" width="2" height="1" fill="#000"/>
<rect x="1686" y="362" width="2" height="1" fill="#000"/>
<rect x="1686" y="395" width="2" height="1" fill="#000"/>
<rect x="1686" y="428" width="2" height="1" fill="#000"/>
<rect x="1686" y="461" width="2" height="1" fill="#000"/>
<rect x="1686" y="494" width="2" height="1" fill="#000"/>
<rect x="1686" y="527" width="2" height="1" fill="#000"/>
<rect x="1686" y="560" width="2" height="1" fill="#000"/>
<rect x="1686" y="593" width="2" height="1" fill="#000"/>
<rect x="1686" y="600" width="2" height="1" fill="#000"/>
<rect x="1686" y="645" width="2" height="1" fill="#000"/>
<rect x="1686" y="753" width="2" height="1" fill="#000"/>
<rect x="1686" y="758" width="2" height="1" fill="#000"/>
</g>
<text x="1691" y="36" font-size="9.8" fill="#000" text-anchor="start" font-weight="normal" textLength="33" lengthAdjust="spacingAndGlyphs" stroke="#000" stroke-width="0.2">30076.0</text>
<text x="1691" y="69" font-size="9.8" fill="#000" text-anchor="start" font-weight="normal" textLength="33" lengthAdjust="spacingAndGlyphs" stroke="#000" stroke-width="0.2">29366.5</text>
<text x="1691" y="102" font-size="9.8" fill="#000" text-anchor="start" font-weight="normal" textLength="33" lengthAdjust="spacingAndGlyphs" stroke="#000" stroke-width="0.2">28635.5</text>
<text x="1691" y="135" font-size="9.8" fill="#000" text-anchor="start" font-weight="normal" textLength="33" lengthAdjust="spacingAndGlyphs" stroke="#000" stroke-width="0.2">27904.5</text>
<text x="1691" y="168" font-size="9.8" fill="#000" text-anchor="start" font-weight="normal" textLength="33" lengthAdjust="spacingAndGlyphs" stroke="#000" stroke-width="0.2">27173.5</text>
<text x="1691" y="201" font-size="9.8" fill="#000" text-anchor="start" font-weight="normal" textLength="33" lengthAdjust="spacingAndGlyphs" stroke="#000" stroke-width="0.2">26454.0</text>
<text x="1691" y="234" font-size="9.8" fill="#000" text-anchor="start" font-weight="normal" textLength="33" lengthAdjust="spacingAndGlyphs" stroke="#000" stroke-width="0.2">25733.0</text>
<text x="1691" y="300" font-size="9.8" fill="#000" text-anchor="start" font-weight="normal" textLength="33" lengthAdjust="spacingAndGlyphs" stroke="#000" stroke-width="0.2">24292.5</text>
<text x="1691" y="333" font-size="9.8" fill="#000" text-anchor="start" font-weight="normal" textLength="33" lengthAdjust="spacingAndGlyphs" stroke="#000" stroke-width="0.2">23583.0</text>
<text x="1691" y="366" font-size="9.8" fill="#000" text-anchor="start" font-weight="normal" textLength="33" lengthAdjust="spacingAndGlyphs" stroke="#000" stroke-width="0.2">22852.0</text>
<text x="1691" y="399" font-size="9.8" fill="#000" text-anchor="start" font-weight="normal" textLength="33" lengthAdjust="spacingAndGlyphs" stroke="#000" stroke-width="0.2">22121.0</text>
<text x="1691" y="432" font-size="9.8" fill="#000" text-anchor="start" font-weight="normal" textLength="33" lengthAdjust="spacingAndGlyphs" stroke="#000" stroke-width="0.2">21411.5</text>
<text x="1691" y="465" font-size="9.8" fill="#000" text-anchor="start" font-weight="normal" textLength="33" lengthAdjust="spacingAndGlyphs" stroke="#000" stroke-width="0.2">20680.5</text>
<text x="1691" y="498" font-size="9.8" fill="#000" text-anchor="start" font-weight="normal" textLength="33" lengthAdjust="spacingAndGlyphs" stroke="#000" stroke-width="0.2">19949.5</text>
<text x="1691" y="531" font-size="9.8" fill="#000" text-anchor="start" font-weight="normal" textLength="33" lengthAdjust="spacingAndGlyphs" stroke="#000" stroke-width="0.2">19240.0</text>
<text x="1691" y="564" font-size="9.8" fill="#000" text-anchor="start" font-weight="normal" textLength="33" lengthAdjust="spacingAndGlyphs" stroke="#000" stroke-width="0.2">18509.0</text>
<text x="1691" y="597" font-size="9.8" fill="#000" text-anchor="start" font-weight="normal" textLength="33" lengthAdjust="spacingAndGlyphs" stroke="#000" stroke-width="0.2">17799.5</text>
<rect x="1687" y="162" width="41" height="11" fill="#ff0000" shape-rendering="crispEdges"/>
<text x="1691" y="171" font-size="9.8" fill="#fff" text-anchor="start" font-weight="normal" textLength="33" lengthAdjust="spacingAndGlyphs" stroke="#fff" stroke-width="0.2">27096.6</text>
<rect x="1687" y="184" width="41" height="11" fill="#ff0000" shape-rendering="crispEdges"/>
<text x="1691" y="193" font-size="9.8" fill="#fff" text-anchor="start" font-weight="normal" textLength="33" lengthAdjust="spacingAndGlyphs" stroke="#fff" stroke-width="0.2">26615.4</text>
<rect x="1687" y="200" width="41" height="11" fill="#32cd32" shape-rendering="crispEdges"/>
<text x="1691" y="209" font-size="9.8" fill="#fff" text-anchor="start" font-weight="normal" textLength="33" lengthAdjust="spacingAndGlyphs" stroke="#fff" stroke-width="0.2">26265.4</text>
<rect x="1687" y="238" width="41" height="11" fill="#0000ff" shape-rendering="crispEdges"/>
<text x="1691" y="247" font-size="9.8" fill="#fff" text-anchor="start" font-weight="normal" textLength="33" lengthAdjust="spacingAndGlyphs" stroke="#fff" stroke-width="0.2">25434.2</text>
<rect x="1687" y="260" width="41" height="11" fill="#0000ff" shape-rendering="crispEdges"/>
<text x="1691" y="269" font-size="9.8" fill="#fff" text-anchor="start" font-weight="normal" textLength="33" lengthAdjust="spacingAndGlyphs" stroke="#fff" stroke-width="0.2">24953.0</text>
<rect x="1687" y="212" width="41" height="11" fill="#000" shape-rendering="crispEdges"/>
<text x="1691" y="220.5" font-size="9.8" fill="#fff" text-anchor="start" font-weight="normal" textLength="33" lengthAdjust="spacingAndGlyphs" stroke="#fff" stroke-width="0.2">26035.0</text>
<text x="0" y="611" font-size="9.8" fill="#000" text-anchor="start" font-weight="normal" textLength="121" lengthAdjust="spacingAndGlyphs" stroke="#000" stroke-width="0.2">MACD(12,26,9) 112.94 74.31</text>
<text x="1689.5" y="609" font-size="9.8" fill="#000" text-anchor="start" font-weight="normal" textLength="32" lengthAdjust="spacingAndGlyphs" stroke="#000" stroke-width="0.2">1024.52</text>
<text x="1689.5" y="649" font-size="9.8" fill="#000" text-anchor="start" font-weight="normal" textLength="17" lengthAdjust="spacingAndGlyphs" stroke="#000" stroke-width="0.2">0.00</text>
<text x="1689" y="751" font-size="9.8" fill="#000" text-anchor="start" font-weight="normal" textLength="35.5" lengthAdjust="spacingAndGlyphs" stroke="#000" stroke-width="0.2">-2433.25</text>
<text x="0" y="769" font-size="9.8" fill="#000" text-anchor="start" font-weight="normal" textLength="65.5" lengthAdjust="spacingAndGlyphs" stroke="#000" stroke-width="0.2">RSI(14) 54.1544</text>
<text x="1689" y="767" font-size="9.8" fill="#000" text-anchor="start" font-weight="normal" textLength="15" lengthAdjust="spacingAndGlyphs" stroke="#000" stroke-width="0.2">100</text>
<text x="1689" y="796" font-size="9.8" fill="#000" text-anchor="start" font-weight="normal" textLength="9.5" lengthAdjust="spacingAndGlyphs" stroke="#000" stroke-width="0.2">80</text>
<text x="1689" y="847" font-size="9.8" fill="#000" text-anchor="start" font-weight="normal" textLength="9.5" lengthAdjust="spacingAndGlyphs" stroke="#000" stroke-width="0.2">50</text>
<text x="1689" y="908" font-size="9.8" fill="#000" text-anchor="start" font-weight="normal" textLength="9.5" lengthAdjust="spacingAndGlyphs" stroke="#000" stroke-width="0.2">15</text>
<text x="1689" y="927" font-size="9.8" fill="#000" text-anchor="start" font-weight="normal" textLength="5" lengthAdjust="spacingAndGlyphs" stroke="#000" stroke-width="0.2">0</text>
<g shape-rendering="crispEdges">
<rect x="58" y="931" width="1" height="3" fill="#000"/>
<rect x="122" y="931" width="1" height="3" fill="#000"/>
<rect x="186" y="931" width="1" height="3" fill="#000"/>
<rect x="250" y="931" width="1" height="3" fill="#000"/>
<rect x="314" y="931" width="1" height="3" fill="#000"/>
<rect x="378" y="931" width="1" height="3" fill="#000"/>
<rect x="442" y="931" width="1" height="3" fill="#000"/>
<rect x="506" y="931" width="1" height="3" fill="#000"/>
<rect x="570" y="931" width="1" height="3" fill="#000"/>
<rect x="634" y="931" width="1" height="3" fill="#000"/>
<rect x="698" y="931" width="1" height="3" fill="#000"/>
<rect x="762" y="931" width="1" height="3" fill="#000"/>
<rect x="826" y="931" width="1" height="3" fill="#000"/>
<rect x="890" y="931" width="1" height="3" fill="#000"/>
<rect x="954" y="931" width="1" height="3" fill="#000"/>
<rect x="1018" y="931" width="1" height="3" fill="#000"/>
<rect x="1082" y="931" width="1" height="3" fill="#000"/>
<rect x="1146" y="931" width="1" height="3" fill="#000"/>
<rect x="1210" y="931" width="1" height="3" fill="#000"/>
<rect x="1274" y="931" width="1" height="3" fill="#000"/>
<rect x="1338" y="931" width="1" height="3" fill="#000"/>
<rect x="1402" y="931" width="1" height="3" fill="#000"/>
</g>
<text x="57.5" y="943" font-size="9.8" fill="#000" text-anchor="start" font-weight="normal" textLength="51.2" lengthAdjust="spacingAndGlyphs" stroke="#000" stroke-width="0.2">24 Dec 2019</text>
<text x="121.5" y="943" font-size="9.8" fill="#000" text-anchor="start" font-weight="normal" textLength="44.2" lengthAdjust="spacingAndGlyphs" stroke="#000" stroke-width="0.2">2 Jan 2020</text>
<text x="185.5" y="943" font-size="9.8" fill="#000" text-anchor="start" font-weight="normal" textLength="48.5" lengthAdjust="spacingAndGlyphs" stroke="#000" stroke-width="0.2">12 Jan 2020</text>
<text x="249.5" y="943" font-size="9.8" fill="#000" text-anchor="start" font-weight="normal" textLength="49.2" lengthAdjust="spacingAndGlyphs" stroke="#000" stroke-width="0.2">21 Jan 2020</text>
<text x="313.5" y="943" font-size="9.8" fill="#000" text-anchor="start" font-weight="normal" textLength="48.9" lengthAdjust="spacingAndGlyphs" stroke="#000" stroke-width="0.2">30 Jan 2020</text>
<text x="377.5" y="943" font-size="9.8" fill="#000" text-anchor="start" font-weight="normal" textLength="45.2" lengthAdjust="spacingAndGlyphs" stroke="#000" stroke-width="0.2">9 Feb 2020</text>
<text x="441.5" y="943" font-size="9.8" fill="#000" text-anchor="start" font-weight="normal" textLength="51" lengthAdjust="spacingAndGlyphs" stroke="#000" stroke-width="0.2">18 Feb 2020</text>
<text x="505.5" y="943" font-size="9.8" fill="#000" text-anchor="start" font-weight="normal" textLength="50.2" lengthAdjust="spacingAndGlyphs" stroke="#000" stroke-width="0.2">27 Feb 2020</text>
<text x="569.5" y="943" font-size="9.8" fill="#000" text-anchor="start" font-weight="normal" textLength="46.5" lengthAdjust="spacingAndGlyphs" stroke="#000" stroke-width="0.2">8 Mar 2020</text>
<text x="633.5" y="943" font-size="9.8" fill="#000" text-anchor="start" font-weight="normal" textLength="51.8" lengthAdjust="spacingAndGlyphs" stroke="#000" stroke-width="0.2">17 Mar 2020</text>
<text x="697.5" y="943" font-size="9.8" fill="#000" text-anchor="start" font-weight="normal" textLength="51.8" lengthAdjust="spacingAndGlyphs" stroke="#000" stroke-width="0.2">26 Mar 2020</text>
<text x="761.5" y="943" font-size="9.8" fill="#000" text-anchor="start" font-weight="normal" textLength="46" lengthAdjust="spacingAndGlyphs" stroke="#000" stroke-width="0.2">5 Apr 2020</text>
<text x="825.5" y="943" font-size="9.8" fill="#000" text-anchor="start" font-weight="normal" textLength="51" lengthAdjust="spacingAndGlyphs" stroke="#000" stroke-width="0.2">15 Apr 2020</text>
<text x="889.5" y="943" font-size="9.8" fill="#000" text-anchor="start" font-weight="normal" textLength="50.5" lengthAdjust="spacingAndGlyphs" stroke="#000" stroke-width="0.2">24 Apr 2020</text>
<text x="953.5" y="943" font-size="9.8" fill="#000" text-anchor="start" font-weight="normal" textLength="50" lengthAdjust="spacingAndGlyphs" stroke="#000" stroke-width="0.2">4 May 2020</text>
<text x="1017.5" y="943" font-size="9.8" fill="#000" text-anchor="start" font-weight="normal" textLength="55" lengthAdjust="spacingAndGlyphs" stroke="#000" stroke-width="0.2">13 May 2020</text>
<text x="1081.5" y="943" font-size="9.8" fill="#000" text-anchor="start" font-weight="normal" textLength="55" lengthAdjust="spacingAndGlyphs" stroke="#000" stroke-width="0.2">22 May 2020</text>
<text x="1145.5" y="943" font-size="9.8" fill="#000" text-anchor="start" font-weight="normal" textLength="45.2" lengthAdjust="spacingAndGlyphs" stroke="#000" stroke-width="0.2">1 Jun 2020</text>
<text x="1209.5" y="943" font-size="9.8" fill="#000" text-anchor="start" font-weight="normal" textLength="49.7" lengthAdjust="spacingAndGlyphs" stroke="#000" stroke-width="0.2">10 Jun 2020</text>
<text x="1273.5" y="943" font-size="9.8" fill="#000" text-anchor="start" font-weight="normal" textLength="49.1" lengthAdjust="spacingAndGlyphs" stroke="#000" stroke-width="0.2">19 Jun 2020</text>
<text x="1337.5" y="943" font-size="9.8" fill="#000" text-anchor="start" font-weight="normal" textLength="49.7" lengthAdjust="spacingAndGlyphs" stroke="#000" stroke-width="0.2">29 Jun 2020</text>
<text x="1401.5" y="943" font-size="9.8" fill="#000" text-anchor="start" font-weight="normal" textLength="42" lengthAdjust="spacingAndGlyphs" stroke="#000" stroke-width="0.2">8 Jul 2020</text>
<text x="-6" y="943" font-size="9.8" fill="#000" text-anchor="start" font-weight="normal" textLength="51" lengthAdjust="spacingAndGlyphs" stroke="#000" stroke-width="0.2">15 Dec 2019</text>
</svg></body></html>
